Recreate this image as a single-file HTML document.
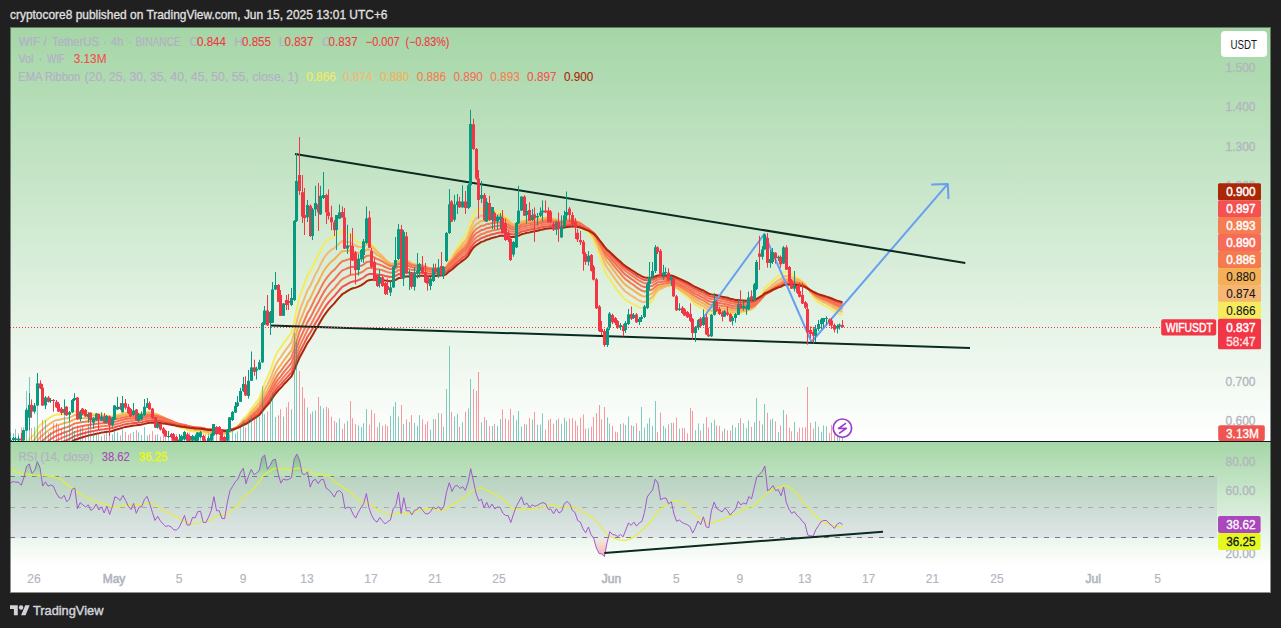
<!DOCTYPE html>
<html><head><meta charset="utf-8"><title>WIFUSDT chart</title>
<style>
*{margin:0;padding:0}
html,body{width:1281px;height:628px;overflow:hidden;background:#202020}
svg{position:absolute;left:0;top:0;display:block}
text{font-family:"Liberation Sans",sans-serif}
</style></head>
<body>
<svg width="1281" height="628" viewBox="0 0 1281 628" font-family="Liberation Sans, sans-serif" shape-rendering="auto">
<defs>
<linearGradient id="g1" x1="0" y1="0" x2="0" y2="1"><stop offset="0" stop-color="#a5d6a7"/><stop offset="1" stop-color="#ffffff"/></linearGradient>
<linearGradient id="g2" x1="0" y1="0" x2="0" y2="1"><stop offset="0" stop-color="#a5d6a7"/><stop offset="1" stop-color="#ffffff"/></linearGradient>
<linearGradient id="gos" gradientUnits="userSpaceOnUse" x1="0" y1="538" x2="0" y2="556"><stop offset="0" stop-color="rgba(255,70,70,0.05)"/><stop offset="1" stop-color="rgba(255,70,70,0.4)"/></linearGradient><linearGradient id="gob" gradientUnits="userSpaceOnUse" x1="0" y1="456" x2="0" y2="476"><stop offset="0" stop-color="rgba(0,150,40,0.3)"/><stop offset="1" stop-color="rgba(0,150,40,0.05)"/></linearGradient><clipPath id="cm"><rect x="10" y="27" width="1207" height="414"/></clipPath>
<clipPath id="cr"><rect x="10" y="442" width="1207" height="123"/></clipPath>
</defs><rect x="10" y="27" width="1261" height="566" fill="#ffffff"/><rect x="10" y="27" width="1261" height="414" fill="url(#g1)"/><rect x="10" y="442" width="1261" height="123" fill="url(#g2)"/><rect x="10" y="441" width="1261" height="1" fill="#131722"/><g clip-path="url(#cm)"><polyline points="10.6,452.9 13.2,451.5 15.9,450.2 18.6,449.1 21.3,448.3 24.0,446.6 26.6,443.1 29.3,439.4 32.0,436.8 34.7,433.8 37.3,429.0 40.0,425.1 42.7,423.2 45.4,420.8 48.0,419.0 50.7,417.2 53.4,415.6 56.1,414.8 58.7,414.5 61.4,414.4 64.1,413.9 66.8,414.0 69.4,413.8 72.1,412.5 74.8,411.1 77.5,411.9 80.1,411.9 82.8,412.1 85.5,412.5 88.2,412.6 90.8,413.3 93.5,413.8 96.2,413.8 98.9,414.3 101.5,414.5 104.2,415.3 106.9,415.4 109.6,416.3 112.2,416.4 114.9,415.4 117.6,414.6 120.2,414.0 122.9,413.0 125.6,412.5 128.3,412.6 131.0,412.9 133.6,412.7 136.3,413.4 139.0,413.5 141.7,413.6 144.3,412.9 147.0,412.0 149.7,411.8 152.4,412.4 155.0,413.8 157.7,414.8 160.4,416.2 163.1,417.8 165.7,419.6 168.4,421.2 171.1,422.7 173.8,424.4 176.4,426.0 179.1,427.3 181.8,428.1 184.5,428.5 187.1,429.7 189.8,430.7 192.5,431.2 195.2,431.7 197.8,431.8 200.5,431.8 203.2,432.7 205.9,433.4 208.5,433.9 211.2,433.9 213.9,432.9 216.6,433.1 219.2,433.2 221.9,433.9 224.6,434.6 227.2,434.1 229.9,432.5 232.6,430.5 235.3,428.2 238.0,425.7 240.6,422.4 243.3,418.8 246.0,416.6 248.7,413.1 251.3,408.8 254.0,405.3 256.7,401.8 259.4,398.0 262.0,390.9 264.7,383.2 267.4,377.7 270.1,371.5 272.7,363.7 275.4,356.2 278.1,351.0 280.8,347.6 283.4,343.4 286.1,339.8 288.8,336.3 291.5,332.6 294.1,322.0 296.8,308.6 299.5,297.4 302.2,289.7 304.8,282.8 307.5,275.4 310.2,271.7 312.9,265.7 315.5,259.8 318.2,255.3 320.9,249.6 323.6,244.4 326.2,241.3 328.9,238.9 331.6,237.3 334.3,236.7 336.9,234.6 339.6,232.5 342.3,231.0 345.0,232.7 347.6,233.9 350.3,235.1 353.0,237.5 355.7,240.6 358.3,242.4 361.0,243.1 363.7,242.9 366.4,240.6 369.0,241.3 371.7,243.7 374.4,247.2 377.1,250.9 379.7,253.4 382.4,256.5 385.1,260.1 387.8,262.9 390.4,265.3 393.1,265.4 395.8,264.9 398.5,261.5 401.1,263.1 403.8,260.2 406.5,261.4 409.2,262.4 411.8,264.7 414.5,265.6 417.2,266.1 419.9,265.9 422.5,266.6 425.2,268.1 427.9,269.6 430.6,270.4 433.2,270.2 435.9,270.4 438.6,270.1 441.2,270.6 443.9,270.3 446.6,266.7 449.3,260.8 452.0,257.0 454.6,252.0 457.3,247.2 460.0,243.4 462.7,239.4 465.3,236.4 468.0,231.6 470.7,221.3 473.4,214.4 476.0,211.0 478.7,210.0 481.4,208.5 484.1,209.6 486.7,208.9 489.4,210.0 492.1,209.7 494.8,210.8 497.4,211.4 500.1,211.9 502.8,213.9 505.5,216.4 508.1,218.6 510.8,222.6 513.5,224.4 516.2,224.3 518.8,223.0 521.5,220.5 524.2,220.0 526.9,219.1 529.5,219.3 532.2,218.9 534.9,218.8 537.5,218.6 540.2,218.0 542.9,217.3 545.6,216.8 548.2,217.3 550.9,217.8 553.6,218.9 556.3,219.2 559.0,220.1 561.6,220.8 564.3,220.3 567.0,219.5 569.7,219.0 572.3,219.5 575.0,220.3 577.7,222.1 580.4,224.0 583.0,226.9 585.7,230.2 588.4,232.6 591.0,236.3 593.7,240.4 596.4,246.9 599.1,254.9 601.8,262.2 604.4,270.1 607.1,275.7 609.8,279.3 612.5,283.4 615.1,287.1 617.8,291.0 620.5,294.2 623.1,297.7 625.8,300.1 628.5,301.5 631.2,303.1 633.9,304.3 636.5,306.0 639.2,307.2 641.9,308.1 644.5,308.0 647.2,305.7 649.9,303.0 652.6,299.9 655.2,294.9 657.9,290.8 660.6,289.3 663.3,287.7 666.0,286.2 668.6,285.7 671.3,284.9 674.0,286.0 676.6,288.3 679.3,290.2 682.0,292.4 684.7,294.6 687.4,296.7 690.0,299.0 692.7,302.3 695.4,304.7 698.0,306.1 700.7,308.0 703.4,308.9 706.1,311.3 708.8,313.7 711.4,313.8 714.1,312.6 716.8,312.5 719.5,312.6 722.1,313.0 724.8,312.8 727.5,313.0 730.1,313.8 732.8,314.2 735.5,314.2 738.2,313.2 740.9,312.7 743.5,312.1 746.2,311.6 748.9,310.3 751.5,309.3 754.2,306.9 756.9,302.6 759.6,298.3 762.2,293.6 764.9,288.0 767.6,285.6 770.3,283.1 773.0,280.1 775.6,278.0 778.3,276.0 781.0,274.9 783.6,272.3 786.3,272.0 789.0,272.9 791.7,274.4 794.4,275.5 797.0,277.1 799.7,279.0 802.4,281.3 805.0,283.8 807.7,288.5 810.4,292.8 813.1,296.9 815.8,299.9 818.4,302.2 821.1,303.8 823.8,305.2 826.5,306.4 829.1,307.9 831.8,309.6 834.5,311.5 837.1,312.8 839.8,314.0 842.5,315.2" fill="none" stroke="#f5eb5d" stroke-width="2" stroke-linejoin="round"/><polyline points="10.6,458.3 13.2,456.8 15.9,455.4 18.6,454.1 21.3,453.0 24.0,451.3 26.6,448.1 29.3,444.7 32.0,442.2 34.7,439.4 37.3,435.1 40.0,431.5 42.7,429.5 45.4,427.0 48.0,425.1 50.7,423.1 53.4,421.4 56.1,420.4 58.7,419.7 61.4,419.2 64.1,418.4 66.8,418.2 69.4,417.7 72.1,416.3 74.8,414.9 77.5,415.2 80.1,415.0 82.8,414.9 85.5,415.0 88.2,414.9 90.8,415.3 93.5,415.5 96.2,415.4 98.9,415.7 101.5,415.8 104.2,416.3 106.9,416.3 109.6,416.9 112.2,417.0 114.9,416.1 117.6,415.4 120.2,414.9 122.9,414.0 125.6,413.5 128.3,413.5 131.0,413.7 133.6,413.5 136.3,414.0 139.0,414.1 141.7,414.0 144.3,413.5 147.0,412.7 149.7,412.5 152.4,412.9 155.0,414.0 157.7,414.8 160.4,415.9 163.1,417.3 165.7,418.8 168.4,420.1 171.1,421.4 173.8,422.9 176.4,424.3 179.1,425.5 181.8,426.3 184.5,426.7 187.1,427.8 189.8,428.8 192.5,429.3 195.2,429.9 197.8,430.1 200.5,430.2 203.2,431.0 205.9,431.8 208.5,432.3 211.2,432.4 213.9,431.8 216.6,431.9 219.2,432.1 221.9,432.8 224.6,433.4 227.2,433.1 229.9,431.9 232.6,430.4 235.3,428.5 238.0,426.5 240.6,423.8 243.3,420.7 246.0,418.8 248.7,415.8 251.3,412.1 254.0,409.0 256.7,405.9 259.4,402.6 262.0,396.4 264.7,389.8 267.4,384.9 270.1,379.3 272.7,372.4 275.4,365.6 278.1,360.7 280.8,357.3 283.4,353.1 286.1,349.4 288.8,345.9 291.5,342.2 294.1,332.9 296.8,321.2 299.5,311.2 302.2,303.9 304.8,297.3 307.5,290.2 310.2,286.0 312.9,280.1 315.5,274.2 318.2,269.4 320.9,263.8 323.6,258.5 326.2,254.9 328.9,251.9 331.6,249.6 334.3,248.1 336.9,245.6 339.6,243.0 342.3,241.1 345.0,241.7 347.6,241.9 350.3,242.3 353.0,243.7 355.7,245.7 358.3,246.7 361.0,247.0 363.7,246.6 366.4,244.4 369.0,244.6 371.7,246.4 374.4,249.0 377.1,251.8 379.7,253.8 382.4,256.2 385.1,259.2 387.8,261.5 390.4,263.5 393.1,263.8 395.8,263.5 398.5,260.9 401.1,262.2 403.8,259.9 406.5,260.9 409.2,261.8 411.8,263.7 414.5,264.4 417.2,265.0 419.9,264.9 422.5,265.5 425.2,266.8 427.9,268.1 430.6,268.9 433.2,268.9 435.9,269.1 438.6,269.0 441.2,269.5 443.9,269.3 446.6,266.5 449.3,261.7 452.0,258.6 454.6,254.4 457.3,250.4 460.0,247.1 462.7,243.6 465.3,240.8 468.0,236.6 470.7,227.9 473.4,221.8 476.0,218.5 478.7,217.1 481.4,215.4 484.1,215.7 486.7,214.7 489.4,215.1 492.1,214.5 494.8,215.0 497.4,215.1 500.1,215.2 502.8,216.6 505.5,218.4 508.1,220.1 510.8,223.1 513.5,224.6 516.2,224.5 518.8,223.4 521.5,221.3 524.2,220.9 526.9,220.1 529.5,220.2 532.2,219.8 534.9,219.7 537.5,219.4 540.2,218.9 542.9,218.2 545.6,217.8 548.2,218.1 550.9,218.4 553.6,219.3 556.3,219.5 559.0,220.2 561.6,220.7 564.3,220.3 567.0,219.7 569.7,219.3 572.3,219.7 575.0,220.3 577.7,221.7 580.4,223.3 583.0,225.7 585.7,228.5 588.4,230.6 591.0,233.6 593.7,237.2 596.4,242.7 599.1,249.5 601.8,255.8 604.4,262.7 607.1,267.7 609.8,271.3 612.5,275.2 615.1,278.9 617.8,282.6 620.5,285.9 623.1,289.3 625.8,291.9 628.5,293.7 631.2,295.6 633.9,297.1 636.5,299.0 639.2,300.5 641.9,301.8 644.5,302.2 647.2,300.8 649.9,298.9 652.6,296.8 655.2,293.0 657.9,289.8 660.6,288.7 663.3,287.5 666.0,286.3 668.6,285.8 671.3,285.2 674.0,286.0 676.6,287.9 679.3,289.5 682.0,291.3 684.7,293.1 687.4,295.0 690.0,297.0 692.7,299.8 695.4,301.9 698.0,303.3 700.7,305.0 703.4,306.0 706.1,308.2 708.8,310.3 711.4,310.7 714.1,309.9 716.8,310.0 719.5,310.3 722.1,310.8 724.8,310.8 727.5,311.1 730.1,311.9 732.8,312.4 735.5,312.5 738.2,311.9 740.9,311.6 743.5,311.1 746.2,310.8 748.9,309.8 751.5,309.0 754.2,307.1 756.9,303.7 759.6,300.1 762.2,296.2 764.9,291.4 767.6,289.2 770.3,286.9 773.0,284.2 775.6,282.2 778.3,280.3 781.0,279.0 783.6,276.6 786.3,276.1 789.0,276.5 791.7,277.4 794.4,278.1 797.0,279.2 799.7,280.5 802.4,282.3 805.0,284.3 807.7,288.0 810.4,291.5 813.1,294.9 815.8,297.5 818.4,299.5 821.1,301.0 823.8,302.3 826.5,303.5 829.1,305.0 831.8,306.5 834.5,308.3 837.1,309.7 839.8,310.8 842.5,312.1" fill="none" stroke="#f5b771" stroke-width="2" stroke-linejoin="round"/><polyline points="10.6,463.4 13.2,461.8 15.9,460.3 18.6,458.9 21.3,457.7 24.0,455.9 26.6,452.9 29.3,449.8 32.0,447.4 34.7,444.7 37.3,440.7 40.0,437.3 42.7,435.3 45.4,432.8 48.0,430.8 50.7,428.8 53.4,427.0 56.1,425.8 58.7,424.9 61.4,424.1 64.1,423.1 66.8,422.6 69.4,421.9 72.1,420.5 74.8,419.1 77.5,419.1 80.1,418.6 82.8,418.3 85.5,418.2 88.2,417.9 90.8,418.0 93.5,418.1 96.2,417.8 98.9,417.9 101.5,417.8 104.2,418.1 106.9,418.0 109.6,418.4 112.2,418.4 114.9,417.5 117.6,416.8 120.2,416.3 122.9,415.5 125.6,415.0 128.3,414.9 131.0,415.0 133.6,414.7 136.3,415.1 139.0,415.0 141.7,415.0 144.3,414.4 147.0,413.7 149.7,413.4 152.4,413.7 155.0,414.6 157.7,415.2 160.4,416.2 163.1,417.3 165.7,418.5 168.4,419.7 171.1,420.8 173.8,422.1 176.4,423.3 179.1,424.3 181.8,425.1 184.5,425.5 187.1,426.5 189.8,427.4 192.5,428.0 195.2,428.5 197.8,428.8 200.5,429.0 203.2,429.8 205.9,430.5 208.5,431.0 211.2,431.2 213.9,430.7 216.6,430.9 219.2,431.1 221.9,431.7 224.6,432.3 227.2,432.2 229.9,431.2 232.6,430.0 235.3,428.4 238.0,426.7 240.6,424.4 243.3,421.8 246.0,420.1 248.7,417.6 251.3,414.3 254.0,411.6 256.7,408.8 259.4,405.8 262.0,400.5 264.7,394.7 267.4,390.2 270.1,385.2 272.7,379.0 275.4,372.9 278.1,368.3 280.8,365.0 283.4,361.0 286.1,357.4 288.8,353.9 291.5,350.3 294.1,341.9 296.8,331.5 299.5,322.5 302.2,315.6 304.8,309.3 307.5,302.6 310.2,298.3 312.9,292.6 315.5,286.8 318.2,282.0 320.9,276.4 323.6,271.2 326.2,267.4 328.9,264.1 331.6,261.4 334.3,259.4 336.9,256.5 339.6,253.6 342.3,251.3 345.0,251.1 347.6,250.8 350.3,250.5 353.0,251.1 355.7,252.4 358.3,252.8 361.0,252.6 363.7,251.9 366.4,249.7 369.0,249.6 371.7,250.7 374.4,252.6 377.1,254.8 379.7,256.2 382.4,258.1 385.1,260.4 387.8,262.4 390.4,264.0 393.1,264.2 395.8,263.9 398.5,261.7 401.1,262.7 403.8,260.8 406.5,261.6 409.2,262.3 411.8,263.8 414.5,264.5 417.2,264.9 419.9,264.8 422.5,265.4 425.2,266.5 427.9,267.6 430.6,268.3 433.2,268.3 435.9,268.5 438.6,268.5 441.2,268.9 443.9,268.8 446.6,266.5 449.3,262.5 452.0,259.8 454.6,256.2 457.3,252.7 460.0,249.8 462.7,246.7 465.3,244.2 468.0,240.4 470.7,232.9 473.4,227.5 476.0,224.3 478.7,222.7 481.4,220.9 484.1,220.9 486.7,219.7 489.4,219.7 492.1,218.9 494.8,219.0 497.4,218.9 500.1,218.7 502.8,219.7 505.5,221.0 508.1,222.2 510.8,224.6 513.5,225.8 516.2,225.6 518.8,224.6 521.5,222.8 524.2,222.3 526.9,221.6 529.5,221.6 532.2,221.1 534.9,221.0 537.5,220.6 540.2,220.1 542.9,219.5 545.6,219.0 548.2,219.2 550.9,219.4 553.6,220.1 556.3,220.2 559.0,220.8 561.6,221.2 564.3,220.8 567.0,220.2 569.7,219.9 572.3,220.1 575.0,220.6 577.7,221.8 580.4,223.1 583.0,225.1 585.7,227.5 588.4,229.3 591.0,232.0 593.7,235.1 596.4,239.8 599.1,245.7 601.8,251.2 604.4,257.3 607.1,261.9 609.8,265.2 612.5,268.9 615.1,272.4 617.8,276.0 620.5,279.1 623.1,282.5 625.8,285.1 628.5,287.0 631.2,289.0 633.9,290.7 636.5,292.7 639.2,294.4 641.9,295.9 644.5,296.6 647.2,295.7 649.9,294.5 652.6,293.0 655.2,290.1 657.9,287.6 660.6,286.8 663.3,285.9 666.0,285.0 668.6,284.7 671.3,284.2 674.0,285.0 676.6,286.6 679.3,288.0 682.0,289.6 684.7,291.3 687.4,293.0 690.0,294.8 692.7,297.3 695.4,299.2 698.0,300.5 700.7,302.2 703.4,303.2 706.1,305.2 708.8,307.2 711.4,307.7 714.1,307.2 716.8,307.5 719.5,307.9 722.1,308.5 724.8,308.7 727.5,309.1 730.1,309.8 732.8,310.4 735.5,310.6 738.2,310.2 740.9,310.1 743.5,309.8 746.2,309.6 748.9,308.8 751.5,308.2 754.2,306.7 756.9,303.8 759.6,300.8 762.2,297.5 764.9,293.4 767.6,291.4 770.3,289.4 773.0,286.9 775.6,285.1 778.3,283.3 781.0,282.0 783.6,279.8 786.3,279.2 789.0,279.3 791.7,279.9 794.4,280.3 797.0,281.1 799.7,282.1 802.4,283.5 805.0,285.0 807.7,288.1 810.4,291.1 813.1,293.9 815.8,296.2 818.4,298.0 821.1,299.3 823.8,300.5 826.5,301.7 829.1,303.0 831.8,304.4 834.5,306.1 837.1,307.3 839.8,308.5 842.5,309.6" fill="none" stroke="#f5b056" stroke-width="2" stroke-linejoin="round"/><polyline points="10.6,468.0 13.2,466.4 15.9,464.8 18.6,463.4 21.3,462.1 24.0,460.3 26.6,457.5 29.3,454.6 32.0,452.2 34.7,449.6 37.3,445.9 40.0,442.7 42.7,440.7 45.4,438.3 48.0,436.2 50.7,434.2 53.4,432.4 56.1,431.0 58.7,429.9 61.4,429.0 64.1,427.9 66.8,427.2 69.4,426.3 72.1,424.9 74.8,423.4 77.5,423.1 80.1,422.5 82.8,422.0 85.5,421.7 88.2,421.3 90.8,421.2 93.5,421.0 96.2,420.6 98.9,420.6 101.5,420.3 104.2,420.5 106.9,420.2 109.6,420.5 112.2,420.3 114.9,419.5 117.6,418.8 120.2,418.3 122.9,417.4 125.6,416.9 128.3,416.7 131.0,416.7 133.6,416.3 136.3,416.6 139.0,416.4 141.7,416.3 144.3,415.8 147.0,415.1 149.7,414.8 152.4,415.0 155.0,415.7 157.7,416.1 160.4,416.9 163.1,417.8 165.7,418.8 168.4,419.8 171.1,420.8 173.8,421.9 176.4,422.9 179.1,423.8 181.8,424.5 184.5,424.9 187.1,425.8 189.8,426.6 192.5,427.2 195.2,427.7 197.8,427.9 200.5,428.2 203.2,428.9 205.9,429.5 208.5,430.0 211.2,430.2 213.9,429.9 216.6,430.1 219.2,430.4 221.9,430.9 224.6,431.5 227.2,431.4 229.9,430.6 232.6,429.6 235.3,428.3 238.0,426.8 240.6,424.8 243.3,422.6 246.0,421.1 248.7,418.8 251.3,416.0 254.0,413.5 256.7,411.0 259.4,408.3 262.0,403.6 264.7,398.4 267.4,394.3 270.1,389.8 272.7,384.2 275.4,378.7 278.1,374.4 280.8,371.2 283.4,367.4 286.1,363.9 288.8,360.5 291.5,357.1 294.1,349.5 296.8,340.2 299.5,331.9 302.2,325.5 304.8,319.5 307.5,313.1 310.2,308.8 312.9,303.3 315.5,297.7 318.2,293.0 320.9,287.6 323.6,282.5 326.2,278.6 328.9,275.1 331.6,272.1 334.3,269.8 336.9,266.8 339.6,263.7 342.3,261.2 345.0,260.5 347.6,259.6 350.3,258.9 353.0,259.0 355.7,259.6 358.3,259.6 361.0,259.0 363.7,258.1 366.4,255.9 369.0,255.4 371.7,256.1 374.4,257.4 377.1,259.0 379.7,260.0 382.4,261.4 385.1,263.2 387.8,264.7 390.4,266.0 393.1,266.0 395.8,265.7 398.5,263.7 401.1,264.5 403.8,262.7 406.5,263.3 409.2,263.8 411.8,265.1 414.5,265.5 417.2,265.8 419.9,265.7 422.5,266.2 425.2,267.0 427.9,268.0 430.6,268.6 433.2,268.5 435.9,268.7 438.6,268.7 441.2,269.0 443.9,268.9 446.6,266.9 449.3,263.4 452.0,261.1 454.6,258.0 457.3,254.8 460.0,252.2 462.7,249.4 465.3,247.1 468.0,243.6 470.7,237.0 473.4,232.1 476.0,229.1 478.7,227.5 481.4,225.7 484.1,225.4 486.7,224.1 489.4,223.9 492.1,222.9 494.8,222.9 497.4,222.5 500.1,222.2 502.8,222.8 505.5,223.7 508.1,224.6 510.8,226.6 513.5,227.5 516.2,227.2 518.8,226.3 521.5,224.6 524.2,224.1 526.9,223.4 529.5,223.3 532.2,222.8 534.9,222.6 537.5,222.2 540.2,221.7 542.9,221.0 545.6,220.6 548.2,220.6 550.9,220.7 553.6,221.2 556.3,221.3 559.0,221.7 561.6,222.0 564.3,221.6 567.0,221.1 569.7,220.7 572.3,220.9 575.0,221.3 577.7,222.3 580.4,223.4 583.0,225.1 585.7,227.1 588.4,228.7 591.0,231.1 593.7,233.8 596.4,237.9 599.1,243.1 601.8,248.0 604.4,253.4 607.1,257.6 609.8,260.7 612.5,264.1 615.1,267.4 617.8,270.7 620.5,273.7 623.1,276.9 625.8,279.5 628.5,281.4 631.2,283.5 633.9,285.2 636.5,287.3 639.2,289.1 641.9,290.6 644.5,291.5 647.2,291.1 649.9,290.3 652.6,289.2 655.2,286.9 657.9,284.9 660.6,284.4 663.3,283.8 666.0,283.1 668.6,283.0 671.3,282.6 674.0,283.4 676.6,284.9 679.3,286.2 682.0,287.7 684.7,289.2 687.4,290.8 690.0,292.5 692.7,294.7 695.4,296.5 698.0,297.8 700.7,299.4 703.4,300.4 706.1,302.3 708.8,304.2 711.4,304.8 714.1,304.6 716.8,304.9 719.5,305.4 722.1,306.0 724.8,306.3 727.5,306.8 730.1,307.6 732.8,308.2 735.5,308.5 738.2,308.3 740.9,308.3 743.5,308.1 746.2,308.1 748.9,307.5 751.5,307.1 754.2,305.8 756.9,303.4 759.6,300.8 762.2,297.9 764.9,294.4 767.6,292.6 770.3,290.8 773.0,288.6 775.6,286.9 778.3,285.3 781.0,284.1 783.6,282.1 786.3,281.4 789.0,281.4 791.7,281.8 794.4,282.0 797.0,282.6 799.7,283.4 802.4,284.5 805.0,285.8 807.7,288.4 810.4,290.9 813.1,293.4 815.8,295.3 818.4,296.9 821.1,298.2 823.8,299.3 826.5,300.3 829.1,301.5 831.8,302.9 834.5,304.3 837.1,305.5 839.8,306.6 842.5,307.7" fill="none" stroke="#f57b4e" stroke-width="2" stroke-linejoin="round"/><polyline points="10.6,472.2 13.2,470.6 15.9,469.0 18.6,467.5 21.3,466.2 24.0,464.4 26.6,461.8 29.3,459.0 32.0,456.7 34.7,454.2 37.3,450.7 40.0,447.7 42.7,445.6 45.4,443.3 48.0,441.3 50.7,439.2 53.4,437.4 56.1,435.9 58.7,434.7 61.4,433.7 64.1,432.5 66.8,431.6 69.4,430.7 72.1,429.2 74.8,427.7 77.5,427.2 80.1,426.5 82.8,425.9 85.5,425.4 88.2,424.9 90.8,424.6 93.5,424.3 96.2,423.8 98.9,423.6 101.5,423.2 104.2,423.2 106.9,422.8 109.6,423.0 112.2,422.7 114.9,421.9 117.6,421.1 120.2,420.5 122.9,419.7 125.6,419.1 128.3,418.8 131.0,418.7 133.6,418.3 136.3,418.4 139.0,418.2 141.7,418.0 144.3,417.5 147.0,416.8 149.7,416.4 152.4,416.5 155.0,417.0 157.7,417.4 160.4,418.0 163.1,418.7 165.7,419.6 168.4,420.4 171.1,421.2 173.8,422.2 176.4,423.1 179.1,423.9 181.8,424.5 184.5,424.8 187.1,425.6 189.8,426.4 192.5,426.8 195.2,427.3 197.8,427.5 200.5,427.8 203.2,428.4 205.9,429.0 208.5,429.4 211.2,429.7 213.9,429.4 216.6,429.6 219.2,429.9 221.9,430.4 224.6,430.9 227.2,430.8 229.9,430.2 232.6,429.3 235.3,428.2 238.0,426.9 240.6,425.1 243.3,423.1 246.0,421.8 248.7,419.8 251.3,417.2 254.0,415.0 256.7,412.8 259.4,410.3 262.0,406.0 264.7,401.4 267.4,397.7 270.1,393.5 272.7,388.4 275.4,383.4 278.1,379.4 280.8,376.3 283.4,372.7 286.1,369.4 288.8,366.2 291.5,362.9 294.1,355.9 296.8,347.4 299.5,339.8 302.2,333.8 304.8,328.1 307.5,322.1 310.2,317.9 312.9,312.6 315.5,307.3 318.2,302.6 320.9,297.4 323.6,292.4 326.2,288.5 328.9,285.0 331.6,281.9 334.3,279.4 336.9,276.3 339.6,273.1 342.3,270.4 345.0,269.4 347.6,268.2 350.3,267.1 353.0,266.8 355.7,267.0 358.3,266.6 361.0,265.8 363.7,264.6 366.4,262.3 369.0,261.6 371.7,261.9 374.4,262.8 377.1,263.9 379.7,264.6 382.4,265.6 385.1,267.0 387.8,268.1 390.4,269.0 393.1,268.9 395.8,268.5 398.5,266.6 401.1,267.2 403.8,265.5 406.5,265.8 409.2,266.1 411.8,267.2 414.5,267.5 417.2,267.6 419.9,267.5 422.5,267.7 425.2,268.5 427.9,269.2 430.6,269.6 433.2,269.6 435.9,269.7 438.6,269.6 441.2,269.9 443.9,269.7 446.6,267.9 449.3,264.8 452.0,262.7 454.6,259.9 457.3,257.0 460.0,254.6 462.7,252.0 465.3,249.9 468.0,246.7 470.7,240.7 473.4,236.3 476.0,233.4 478.7,231.8 481.4,230.0 484.1,229.5 486.7,228.2 489.4,227.8 492.1,226.8 494.8,226.5 497.4,226.0 500.1,225.6 502.8,225.9 505.5,226.6 508.1,227.3 510.8,228.9 513.5,229.5 516.2,229.2 518.8,228.3 521.5,226.7 524.2,226.2 526.9,225.5 529.5,225.2 532.2,224.7 534.9,224.4 537.5,224.0 540.2,223.4 542.9,222.8 545.6,222.3 548.2,222.3 550.9,222.3 553.6,222.6 556.3,222.6 559.0,222.9 561.6,223.1 564.3,222.7 567.0,222.2 569.7,221.9 572.3,222.0 575.0,222.2 577.7,223.1 580.4,224.0 583.0,225.5 585.7,227.2 588.4,228.6 591.0,230.7 593.7,233.1 596.4,236.7 599.1,241.3 601.8,245.8 604.4,250.6 607.1,254.4 609.8,257.3 612.5,260.5 615.1,263.5 617.8,266.6 620.5,269.5 623.1,272.5 625.8,274.9 628.5,276.9 631.2,278.9 633.9,280.7 636.5,282.7 639.2,284.5 641.9,286.1 644.5,287.1 647.2,286.9 649.9,286.4 652.6,285.7 655.2,283.8 657.9,282.2 660.6,281.9 663.3,281.4 666.0,281.0 668.6,281.0 671.3,280.8 674.0,281.5 676.6,282.9 679.3,284.2 682.0,285.6 684.7,287.0 687.4,288.5 690.0,290.1 692.7,292.2 695.4,293.9 698.0,295.2 700.7,296.7 703.4,297.7 706.1,299.5 708.8,301.3 711.4,301.9 714.1,301.9 716.8,302.3 719.5,302.9 722.1,303.6 724.8,304.0 727.5,304.5 730.1,305.3 732.8,305.9 735.5,306.3 738.2,306.2 740.9,306.3 743.5,306.3 746.2,306.3 748.9,305.9 751.5,305.6 754.2,304.6 756.9,302.5 759.6,300.3 762.2,297.8 764.9,294.7 767.6,293.1 770.3,291.5 773.0,289.5 775.6,288.0 778.3,286.5 781.0,285.4 783.6,283.6 786.3,282.9 789.0,282.8 791.7,283.1 794.4,283.2 797.0,283.7 799.7,284.3 802.4,285.3 805.0,286.4 807.7,288.6 810.4,290.8 813.1,293.0 815.8,294.7 818.4,296.2 821.1,297.3 823.8,298.3 826.5,299.3 829.1,300.4 831.8,301.6 834.5,303.0 837.1,304.1 839.8,305.1 842.5,306.2" fill="none" stroke="#f56d58" stroke-width="2" stroke-linejoin="round"/><polyline points="10.6,476.0 13.2,474.4 15.9,472.8 18.6,471.3 21.3,470.0 24.0,468.3 26.6,465.7 29.3,463.1 32.0,460.8 34.7,458.4 37.3,455.2 40.0,452.3 42.7,450.2 45.4,447.9 48.0,445.9 50.7,443.9 53.4,442.1 56.1,440.6 58.7,439.3 61.4,438.1 64.1,436.9 66.8,435.9 69.4,434.9 72.1,433.4 74.8,431.9 77.5,431.3 80.1,430.4 82.8,429.7 85.5,429.2 88.2,428.5 90.8,428.1 93.5,427.7 96.2,427.1 98.9,426.8 101.5,426.3 104.2,426.1 106.9,425.7 109.6,425.7 112.2,425.3 114.9,424.5 117.6,423.7 120.2,423.1 122.9,422.2 125.6,421.6 128.3,421.2 131.0,421.0 133.6,420.5 136.3,420.5 139.0,420.3 141.7,420.0 144.3,419.4 147.0,418.7 149.7,418.3 152.4,418.3 155.0,418.7 157.7,419.0 160.4,419.4 163.1,420.0 165.7,420.7 168.4,421.4 171.1,422.1 173.8,422.9 176.4,423.7 179.1,424.4 181.8,424.9 184.5,425.2 187.1,425.9 189.8,426.5 192.5,426.9 195.2,427.3 197.8,427.6 200.5,427.8 203.2,428.3 205.9,428.9 208.5,429.3 211.2,429.5 213.9,429.2 216.6,429.4 219.2,429.7 221.9,430.1 224.6,430.6 227.2,430.6 229.9,430.0 232.6,429.2 235.3,428.2 238.0,427.1 240.6,425.5 243.3,423.7 246.0,422.5 248.7,420.7 251.3,418.3 254.0,416.3 256.7,414.2 259.4,412.0 262.0,408.1 264.7,403.9 267.4,400.5 270.1,396.6 272.7,392.0 275.4,387.3 278.1,383.6 280.8,380.6 283.4,377.3 286.1,374.1 288.8,371.1 291.5,367.9 294.1,361.5 296.8,353.6 299.5,346.6 302.2,340.9 304.8,335.6 307.5,329.9 310.2,325.8 312.9,320.8 315.5,315.6 318.2,311.1 320.9,306.1 323.6,301.3 326.2,297.4 328.9,293.9 331.6,290.8 334.3,288.1 336.9,285.0 339.6,281.8 342.3,279.0 345.0,277.7 347.6,276.3 350.3,275.0 353.0,274.4 355.7,274.2 358.3,273.5 361.0,272.5 363.7,271.1 366.4,268.8 369.0,267.9 371.7,267.9 374.4,268.4 377.1,269.2 379.7,269.5 382.4,270.2 385.1,271.3 387.8,272.1 390.4,272.8 393.1,272.5 395.8,272.0 398.5,270.1 401.1,270.5 403.8,268.8 406.5,269.0 409.2,269.1 411.8,269.9 414.5,270.0 417.2,270.1 419.9,269.8 422.5,270.0 425.2,270.5 427.9,271.1 430.6,271.4 433.2,271.3 435.9,271.3 438.6,271.1 441.2,271.3 443.9,271.1 446.6,269.5 449.3,266.6 452.0,264.7 454.6,262.1 457.3,259.4 460.0,257.2 462.7,254.7 465.3,252.7 468.0,249.8 470.7,244.3 473.4,240.2 476.0,237.5 478.7,235.9 481.4,234.1 484.1,233.5 486.7,232.1 489.4,231.6 492.1,230.5 494.8,230.1 497.4,229.5 500.1,229.0 502.8,229.1 505.5,229.6 508.1,230.1 510.8,231.4 513.5,231.8 516.2,231.4 518.8,230.5 521.5,229.1 524.2,228.5 526.9,227.7 529.5,227.4 532.2,226.9 534.9,226.5 537.5,226.1 540.2,225.5 542.9,224.8 545.6,224.3 548.2,224.2 550.9,224.1 553.6,224.3 556.3,224.2 559.0,224.4 561.6,224.5 564.3,224.1 567.0,223.6 569.7,223.2 572.3,223.3 575.0,223.4 577.7,224.1 580.4,224.9 583.0,226.2 585.7,227.7 588.4,229.0 591.0,230.8 593.7,232.9 596.4,236.2 599.1,240.3 601.8,244.3 604.4,248.7 607.1,252.1 609.8,254.8 612.5,257.7 615.1,260.6 617.8,263.5 620.5,266.2 623.1,269.0 625.8,271.3 628.5,273.2 631.2,275.2 633.9,276.9 636.5,278.9 639.2,280.6 641.9,282.2 644.5,283.3 647.2,283.3 649.9,283.0 652.6,282.5 655.2,281.0 657.9,279.7 660.6,279.5 663.3,279.2 666.0,278.9 668.6,279.0 671.3,278.9 674.0,279.6 676.6,281.0 679.3,282.2 682.0,283.5 684.7,284.9 687.4,286.3 690.0,287.8 692.7,289.8 695.4,291.4 698.0,292.7 700.7,294.1 703.4,295.1 706.1,296.8 708.8,298.5 711.4,299.2 714.1,299.3 716.8,299.8 719.5,300.5 722.1,301.2 724.8,301.6 727.5,302.2 730.1,303.0 732.8,303.6 735.5,304.1 738.2,304.1 740.9,304.3 743.5,304.3 746.2,304.5 748.9,304.2 751.5,304.0 754.2,303.1 756.9,301.3 759.6,299.4 762.2,297.2 764.9,294.5 767.6,293.1 770.3,291.6 773.0,289.9 775.6,288.5 778.3,287.2 781.0,286.2 783.6,284.5 786.3,283.8 789.0,283.7 791.7,283.9 794.4,284.0 797.0,284.4 799.7,284.9 802.4,285.7 805.0,286.7 807.7,288.7 810.4,290.7 813.1,292.6 815.8,294.2 818.4,295.5 821.1,296.5 823.8,297.4 826.5,298.3 829.1,299.4 831.8,300.5 834.5,301.8 837.1,302.8 839.8,303.8 842.5,304.8" fill="none" stroke="#f57d51" stroke-width="2" stroke-linejoin="round"/><polyline points="10.6,479.5 13.2,477.9 15.9,476.3 18.6,474.8 21.3,473.5 24.0,471.8 26.6,469.3 29.3,466.8 32.0,464.7 34.7,462.3 37.3,459.2 40.0,456.5 42.7,454.5 45.4,452.2 48.0,450.2 50.7,448.3 53.4,446.4 56.1,444.9 58.7,443.6 61.4,442.4 64.1,441.1 66.8,440.1 69.4,439.0 72.1,437.4 74.8,435.9 77.5,435.2 80.1,434.3 82.8,433.5 85.5,432.8 88.2,432.1 90.8,431.6 93.5,431.1 96.2,430.4 98.9,430.0 101.5,429.5 104.2,429.2 106.9,428.7 109.6,428.5 112.2,428.1 114.9,427.2 117.6,426.4 120.2,425.7 122.9,424.9 125.6,424.2 128.3,423.7 131.0,423.5 133.6,423.0 136.3,422.9 139.0,422.5 141.7,422.2 144.3,421.6 147.0,420.9 149.7,420.4 152.4,420.3 155.0,420.6 157.7,420.8 160.4,421.1 163.1,421.6 165.7,422.2 168.4,422.7 171.1,423.3 173.8,424.0 176.4,424.6 179.1,425.2 181.8,425.6 184.5,425.9 187.1,426.5 189.8,427.0 192.5,427.4 195.2,427.7 197.8,427.9 200.5,428.1 203.2,428.6 205.9,429.1 208.5,429.4 211.2,429.6 213.9,429.4 216.6,429.6 219.2,429.7 221.9,430.2 224.6,430.6 227.2,430.6 229.9,430.0 232.6,429.3 235.3,428.4 238.0,427.4 240.6,426.0 243.3,424.3 246.0,423.2 248.7,421.5 251.3,419.4 254.0,417.5 256.7,415.6 259.4,413.5 262.0,410.0 264.7,406.1 267.4,402.9 270.1,399.4 272.7,395.0 275.4,390.7 278.1,387.2 280.8,384.4 283.4,381.3 286.1,378.3 288.8,375.3 291.5,372.3 294.1,366.4 296.8,359.1 299.5,352.5 302.2,347.2 304.8,342.1 307.5,336.7 310.2,332.8 312.9,327.9 315.5,323.0 318.2,318.7 320.9,313.9 323.6,309.2 326.2,305.4 328.9,301.9 331.6,298.8 334.3,296.1 336.9,292.9 339.6,289.8 342.3,286.9 345.0,285.4 347.6,283.8 350.3,282.4 353.0,281.5 355.7,281.1 358.3,280.2 361.0,279.0 363.7,277.5 366.4,275.2 369.0,274.1 371.7,273.9 374.4,274.1 377.1,274.6 379.7,274.7 382.4,275.1 385.1,275.9 387.8,276.4 390.4,276.9 393.1,276.5 395.8,275.8 398.5,274.0 401.1,274.2 403.8,272.5 406.5,272.5 409.2,272.5 411.8,273.1 414.5,273.1 417.2,273.0 419.9,272.7 422.5,272.7 425.2,273.1 427.9,273.5 430.6,273.7 433.2,273.5 435.9,273.4 438.6,273.2 441.2,273.3 443.9,273.0 446.6,271.4 449.3,268.8 452.0,267.0 454.6,264.5 457.3,262.0 460.0,259.9 462.7,257.6 465.3,255.7 468.0,252.9 470.7,247.8 473.4,244.0 476.0,241.4 478.7,239.8 481.4,238.0 484.1,237.3 486.7,235.9 489.4,235.3 492.1,234.2 494.8,233.7 497.4,233.0 500.1,232.4 502.8,232.4 505.5,232.7 508.1,233.0 510.8,234.1 513.5,234.4 516.2,233.9 518.8,233.0 521.5,231.6 524.2,231.0 526.9,230.2 529.5,229.8 532.2,229.2 534.9,228.8 537.5,228.3 540.2,227.7 542.9,227.0 545.6,226.4 548.2,226.3 550.9,226.1 553.6,226.2 556.3,226.1 559.0,226.2 561.6,226.2 564.3,225.8 567.0,225.2 569.7,224.8 572.3,224.8 575.0,224.9 577.7,225.5 580.4,226.1 583.0,227.2 585.7,228.6 588.4,229.6 591.0,231.3 593.7,233.2 596.4,236.1 599.1,239.8 601.8,243.4 604.4,247.4 607.1,250.6 609.8,253.1 612.5,255.8 615.1,258.4 617.8,261.1 620.5,263.6 623.1,266.3 625.8,268.5 628.5,270.3 631.2,272.2 633.9,273.9 636.5,275.8 639.2,277.5 641.9,279.0 644.5,280.1 647.2,280.2 649.9,280.1 652.6,279.8 655.2,278.5 657.9,277.4 660.6,277.4 663.3,277.2 666.0,277.0 668.6,277.1 671.3,277.1 674.0,277.9 676.6,279.1 679.3,280.3 682.0,281.6 684.7,282.9 687.4,284.3 690.0,285.7 692.7,287.5 695.4,289.1 698.0,290.3 700.7,291.7 703.4,292.7 706.1,294.4 708.8,296.0 711.4,296.7 714.1,296.9 716.8,297.5 719.5,298.1 722.1,298.8 724.8,299.3 727.5,299.9 730.1,300.8 732.8,301.4 735.5,301.9 738.2,302.0 740.9,302.3 743.5,302.4 746.2,302.6 748.9,302.4 751.5,302.3 754.2,301.6 756.9,300.0 759.6,298.3 762.2,296.4 764.9,294.0 767.6,292.8 770.3,291.4 773.0,289.9 775.6,288.7 778.3,287.4 781.0,286.5 783.6,285.0 786.3,284.4 789.0,284.2 791.7,284.4 794.4,284.5 797.0,284.8 799.7,285.3 802.4,286.0 805.0,286.8 807.7,288.6 810.4,290.4 813.1,292.2 815.8,293.6 818.4,294.8 821.1,295.7 823.8,296.6 826.5,297.5 829.1,298.4 831.8,299.5 834.5,300.7 837.1,301.7 839.8,302.6 842.5,303.5" fill="none" stroke="#f55151" stroke-width="2" stroke-linejoin="round"/><polyline points="10.6,482.6 13.2,481.0 15.9,479.5 18.6,478.0 21.3,476.7 24.0,475.0 26.6,472.7 29.3,470.3 32.0,468.2 34.7,465.9 37.3,463.0 40.0,460.3 42.7,458.4 45.4,456.2 48.0,454.2 50.7,452.3 53.4,450.5 56.1,448.9 58.7,447.6 61.4,446.4 64.1,445.0 66.8,444.0 69.4,442.8 72.1,441.3 74.8,439.8 77.5,439.0 80.1,438.0 82.8,437.2 85.5,436.4 88.2,435.6 90.8,435.1 93.5,434.5 96.2,433.7 98.9,433.2 101.5,432.6 104.2,432.3 106.9,431.7 109.6,431.4 112.2,431.0 114.9,430.0 117.6,429.2 120.2,428.5 122.9,427.6 125.6,426.9 128.3,426.4 131.0,426.0 133.6,425.5 136.3,425.3 139.0,424.9 141.7,424.5 144.3,423.9 147.0,423.2 149.7,422.7 152.4,422.5 155.0,422.7 157.7,422.7 160.4,423.0 163.1,423.4 165.7,423.8 168.4,424.3 171.1,424.7 173.8,425.3 176.4,425.9 179.1,426.3 181.8,426.7 184.5,426.9 187.1,427.4 189.8,427.8 192.5,428.1 195.2,428.4 197.8,428.6 200.5,428.7 203.2,429.1 205.9,429.6 208.5,429.9 211.2,430.0 213.9,429.8 216.6,429.9 219.2,430.1 221.9,430.5 224.6,430.9 227.2,430.8 229.9,430.3 232.6,429.7 235.3,428.8 238.0,427.9 240.6,426.6 243.3,425.0 246.0,424.0 248.7,422.4 251.3,420.5 254.0,418.7 256.7,417.0 259.4,415.0 262.0,411.7 264.7,408.1 267.4,405.1 270.1,401.8 272.7,397.8 275.4,393.8 278.1,390.5 280.8,387.8 283.4,384.8 286.1,382.0 288.8,379.1 291.5,376.2 294.1,370.7 296.8,363.9 299.5,357.8 302.2,352.7 304.8,347.9 307.5,342.8 310.2,339.0 312.9,334.4 315.5,329.7 318.2,325.5 320.9,320.8 323.6,316.3 326.2,312.6 328.9,309.2 331.6,306.1 334.3,303.4 336.9,300.2 339.6,297.1 342.3,294.2 345.0,292.6 347.6,290.9 350.3,289.3 353.0,288.3 355.7,287.6 358.3,286.6 361.0,285.3 363.7,283.7 366.4,281.4 369.0,280.2 371.7,279.7 374.4,279.8 377.1,280.0 379.7,279.9 382.4,280.1 385.1,280.6 387.8,280.9 390.4,281.2 393.1,280.7 395.8,279.9 398.5,278.1 401.1,278.1 403.8,276.5 406.5,276.4 409.2,276.2 411.8,276.6 414.5,276.5 417.2,276.3 419.9,275.8 422.5,275.7 425.2,276.0 427.9,276.3 430.6,276.3 433.2,276.1 435.9,275.9 438.6,275.6 441.2,275.6 443.9,275.3 446.6,273.8 449.3,271.3 452.0,269.5 454.6,267.2 457.3,264.8 460.0,262.8 462.7,260.6 465.3,258.7 468.0,256.1 470.7,251.4 473.4,247.7 476.0,245.3 478.7,243.6 481.4,241.9 484.1,241.1 486.7,239.7 489.4,239.0 492.1,237.9 494.8,237.3 497.4,236.6 500.1,235.8 502.8,235.7 505.5,235.9 508.1,236.0 510.8,236.9 513.5,237.1 516.2,236.6 518.8,235.6 521.5,234.3 524.2,233.6 526.9,232.8 529.5,232.4 532.2,231.7 534.9,231.3 537.5,230.7 540.2,230.1 542.9,229.4 545.6,228.8 548.2,228.5 550.9,228.3 553.6,228.3 556.3,228.1 559.0,228.1 561.6,228.1 564.3,227.6 567.0,227.1 569.7,226.7 572.3,226.6 575.0,226.6 577.7,227.0 580.4,227.6 583.0,228.5 585.7,229.7 588.4,230.6 591.0,232.1 593.7,233.8 596.4,236.4 599.1,239.8 601.8,243.1 604.4,246.7 607.1,249.7 609.8,251.9 612.5,254.5 615.1,256.9 617.8,259.4 620.5,261.8 623.1,264.2 625.8,266.3 628.5,268.1 631.2,269.9 633.9,271.5 636.5,273.3 639.2,274.9 641.9,276.4 644.5,277.5 647.2,277.7 649.9,277.7 652.6,277.5 655.2,276.4 657.9,275.5 660.6,275.5 663.3,275.4 666.0,275.3 668.6,275.5 671.3,275.5 674.0,276.3 676.6,277.5 679.3,278.6 682.0,279.8 684.7,281.1 687.4,282.4 690.0,283.8 692.7,285.5 695.4,287.0 698.0,288.2 700.7,289.5 703.4,290.5 706.1,292.1 708.8,293.7 711.4,294.4 714.1,294.7 716.8,295.3 719.5,295.9 722.1,296.7 724.8,297.2 727.5,297.8 730.1,298.7 732.8,299.3 735.5,299.9 738.2,300.0 740.9,300.3 743.5,300.5 746.2,300.7 748.9,300.6 751.5,300.6 754.2,300.0 756.9,298.7 759.6,297.2 762.2,295.5 764.9,293.3 767.6,292.2 770.3,291.0 773.0,289.6 775.6,288.5 778.3,287.4 781.0,286.5 783.6,285.1 786.3,284.6 789.0,284.5 791.7,284.6 794.4,284.7 797.0,285.0 799.7,285.4 802.4,286.0 805.0,286.8 807.7,288.4 810.4,290.1 813.1,291.7 815.8,293.0 818.4,294.1 821.1,295.0 823.8,295.8 826.5,296.6 829.1,297.5 831.8,298.5 834.5,299.6 837.1,300.6 839.8,301.4 842.5,302.3" fill="none" stroke="#aa2707" stroke-width="2" stroke-linejoin="round"/><rect x="10" y="432.6" width="1" height="8.4" fill="rgba(8,153,129,0.5)"/><rect x="13" y="433.2" width="1" height="7.8" fill="rgba(8,153,129,0.5)"/><rect x="15" y="429.1" width="1" height="11.9" fill="rgba(8,153,129,0.5)"/><rect x="18" y="433.4" width="1" height="7.6" fill="rgba(8,153,129,0.5)"/><rect x="21" y="427.3" width="1" height="13.7" fill="rgba(242,54,69,0.5)"/><rect x="23" y="427.3" width="1" height="13.7" fill="rgba(8,153,129,0.5)"/><rect x="26" y="391.0" width="1" height="50.0" fill="rgba(8,153,129,0.5)"/><rect x="29" y="377.0" width="1" height="64.0" fill="rgba(8,153,129,0.5)"/><rect x="31" y="428.0" width="1" height="13.0" fill="rgba(242,54,69,0.5)"/><rect x="34" y="426.8" width="1" height="14.2" fill="rgba(8,153,129,0.5)"/><rect x="37" y="396.0" width="1" height="45.0" fill="rgba(8,153,129,0.5)"/><rect x="40" y="431.6" width="1" height="9.4" fill="rgba(242,54,69,0.5)"/><rect x="42" y="419.8" width="1" height="21.2" fill="rgba(242,54,69,0.5)"/><rect x="45" y="420.2" width="1" height="20.8" fill="rgba(8,153,129,0.5)"/><rect x="48" y="432.2" width="1" height="8.8" fill="rgba(242,54,69,0.5)"/><rect x="50" y="432.1" width="1" height="8.9" fill="rgba(8,153,129,0.5)"/><rect x="53" y="423.1" width="1" height="17.9" fill="rgba(242,54,69,0.5)"/><rect x="56" y="423.1" width="1" height="17.9" fill="rgba(242,54,69,0.5)"/><rect x="58" y="425.5" width="1" height="15.5" fill="rgba(242,54,69,0.5)"/><rect x="61" y="428.7" width="1" height="12.3" fill="rgba(242,54,69,0.5)"/><rect x="64" y="415.7" width="1" height="25.3" fill="rgba(8,153,129,0.5)"/><rect x="66" y="431.5" width="1" height="9.5" fill="rgba(242,54,69,0.5)"/><rect x="69" y="422.0" width="1" height="19.0" fill="rgba(8,153,129,0.5)"/><rect x="72" y="426.5" width="1" height="14.5" fill="rgba(8,153,129,0.5)"/><rect x="74" y="431.4" width="1" height="9.6" fill="rgba(8,153,129,0.5)"/><rect x="77" y="425.1" width="1" height="15.9" fill="rgba(242,54,69,0.5)"/><rect x="80" y="427.7" width="1" height="13.3" fill="rgba(8,153,129,0.5)"/><rect x="82" y="425.3" width="1" height="15.7" fill="rgba(242,54,69,0.5)"/><rect x="85" y="431.0" width="1" height="10.0" fill="rgba(242,54,69,0.5)"/><rect x="88" y="425.2" width="1" height="15.8" fill="rgba(8,153,129,0.5)"/><rect x="90" y="423.0" width="1" height="18.0" fill="rgba(242,54,69,0.5)"/><rect x="93" y="431.6" width="1" height="9.4" fill="rgba(8,153,129,0.5)"/><rect x="96" y="433.7" width="1" height="7.3" fill="rgba(8,153,129,0.5)"/><rect x="98" y="434.3" width="1" height="6.7" fill="rgba(242,54,69,0.5)"/><rect x="101" y="436.1" width="1" height="4.9" fill="rgba(8,153,129,0.5)"/><rect x="104" y="434.8" width="1" height="6.2" fill="rgba(242,54,69,0.5)"/><rect x="106" y="432.7" width="1" height="8.3" fill="rgba(8,153,129,0.5)"/><rect x="109" y="430.2" width="1" height="10.8" fill="rgba(242,54,69,0.5)"/><rect x="112" y="434.4" width="1" height="6.6" fill="rgba(8,153,129,0.5)"/><rect x="114" y="430.8" width="1" height="10.2" fill="rgba(8,153,129,0.5)"/><rect x="117" y="432.4" width="1" height="8.6" fill="rgba(8,153,129,0.5)"/><rect x="120" y="435.3" width="1" height="5.7" fill="rgba(242,54,69,0.5)"/><rect x="122" y="428.6" width="1" height="12.4" fill="rgba(8,153,129,0.5)"/><rect x="125" y="431.8" width="1" height="9.2" fill="rgba(242,54,69,0.5)"/><rect x="128" y="434.7" width="1" height="6.3" fill="rgba(242,54,69,0.5)"/><rect x="130" y="433.1" width="1" height="7.9" fill="rgba(242,54,69,0.5)"/><rect x="133" y="432.0" width="1" height="9.0" fill="rgba(8,153,129,0.5)"/><rect x="136" y="430.0" width="1" height="11.0" fill="rgba(242,54,69,0.5)"/><rect x="138" y="432.2" width="1" height="8.8" fill="rgba(8,153,129,0.5)"/><rect x="141" y="434.9" width="1" height="6.1" fill="rgba(8,153,129,0.5)"/><rect x="144" y="427.0" width="1" height="14.0" fill="rgba(8,153,129,0.5)"/><rect x="147" y="435.5" width="1" height="5.5" fill="rgba(8,153,129,0.5)"/><rect x="149" y="434.2" width="1" height="6.8" fill="rgba(242,54,69,0.5)"/><rect x="152" y="431.2" width="1" height="9.8" fill="rgba(242,54,69,0.5)"/><rect x="155" y="435.0" width="1" height="6.0" fill="rgba(242,54,69,0.5)"/><rect x="157" y="434.3" width="1" height="6.7" fill="rgba(8,153,129,0.5)"/><rect x="160" y="436.6" width="1" height="4.4" fill="rgba(242,54,69,0.5)"/><rect x="163" y="433.4" width="1" height="7.6" fill="rgba(242,54,69,0.5)"/><rect x="165" y="432.9" width="1" height="8.1" fill="rgba(242,54,69,0.5)"/><rect x="168" y="433.9" width="1" height="7.1" fill="rgba(8,153,129,0.5)"/><rect x="171" y="433.2" width="1" height="7.8" fill="rgba(242,54,69,0.5)"/><rect x="173" y="434.9" width="1" height="6.1" fill="rgba(242,54,69,0.5)"/><rect x="176" y="434.0" width="1" height="7.0" fill="rgba(242,54,69,0.5)"/><rect x="179" y="433.8" width="1" height="7.2" fill="rgba(8,153,129,0.5)"/><rect x="181" y="434.2" width="1" height="6.8" fill="rgba(8,153,129,0.5)"/><rect x="184" y="433.8" width="1" height="7.2" fill="rgba(8,153,129,0.5)"/><rect x="187" y="432.0" width="1" height="9.0" fill="rgba(242,54,69,0.5)"/><rect x="189" y="432.4" width="1" height="8.6" fill="rgba(242,54,69,0.5)"/><rect x="192" y="434.7" width="1" height="6.3" fill="rgba(8,153,129,0.5)"/><rect x="195" y="433.8" width="1" height="7.2" fill="rgba(8,153,129,0.5)"/><rect x="197" y="436.1" width="1" height="4.9" fill="rgba(8,153,129,0.5)"/><rect x="200" y="433.2" width="1" height="7.8" fill="rgba(8,153,129,0.5)"/><rect x="203" y="433.9" width="1" height="7.1" fill="rgba(242,54,69,0.5)"/><rect x="205" y="434.2" width="1" height="6.8" fill="rgba(242,54,69,0.5)"/><rect x="208" y="433.5" width="1" height="7.5" fill="rgba(8,153,129,0.5)"/><rect x="211" y="435.1" width="1" height="5.9" fill="rgba(8,153,129,0.5)"/><rect x="213" y="433.2" width="1" height="7.8" fill="rgba(8,153,129,0.5)"/><rect x="216" y="432.6" width="1" height="8.4" fill="rgba(242,54,69,0.5)"/><rect x="219" y="436.3" width="1" height="4.7" fill="rgba(242,54,69,0.5)"/><rect x="221" y="432.7" width="1" height="8.3" fill="rgba(242,54,69,0.5)"/><rect x="224" y="436.5" width="1" height="4.5" fill="rgba(242,54,69,0.5)"/><rect x="227" y="435.0" width="1" height="6.0" fill="rgba(8,153,129,0.5)"/><rect x="229" y="434.1" width="1" height="6.9" fill="rgba(8,153,129,0.5)"/><rect x="232" y="429.7" width="1" height="11.3" fill="rgba(8,153,129,0.5)"/><rect x="235" y="433.3" width="1" height="7.7" fill="rgba(8,153,129,0.5)"/><rect x="237" y="431.5" width="1" height="9.5" fill="rgba(8,153,129,0.5)"/><rect x="240" y="427.7" width="1" height="13.3" fill="rgba(8,153,129,0.5)"/><rect x="243" y="420.4" width="1" height="20.6" fill="rgba(8,153,129,0.5)"/><rect x="245" y="427.4" width="1" height="13.6" fill="rgba(242,54,69,0.5)"/><rect x="248" y="418.9" width="1" height="22.1" fill="rgba(8,153,129,0.5)"/><rect x="251" y="415.6" width="1" height="25.4" fill="rgba(8,153,129,0.5)"/><rect x="254" y="413.4" width="1" height="27.6" fill="rgba(242,54,69,0.5)"/><rect x="256" y="416.1" width="1" height="24.9" fill="rgba(8,153,129,0.5)"/><rect x="259" y="416.8" width="1" height="24.2" fill="rgba(8,153,129,0.5)"/><rect x="262" y="386.0" width="1" height="55.0" fill="rgba(8,153,129,0.5)"/><rect x="264" y="414.1" width="1" height="26.9" fill="rgba(8,153,129,0.5)"/><rect x="267" y="411.6" width="1" height="29.4" fill="rgba(242,54,69,0.5)"/><rect x="270" y="396.4" width="1" height="44.6" fill="rgba(8,153,129,0.5)"/><rect x="272" y="392.5" width="1" height="48.5" fill="rgba(8,153,129,0.5)"/><rect x="275" y="416.9" width="1" height="24.1" fill="rgba(8,153,129,0.5)"/><rect x="278" y="415.3" width="1" height="25.7" fill="rgba(242,54,69,0.5)"/><rect x="280" y="409.2" width="1" height="31.8" fill="rgba(242,54,69,0.5)"/><rect x="283" y="416.7" width="1" height="24.3" fill="rgba(8,153,129,0.5)"/><rect x="286" y="407.2" width="1" height="33.8" fill="rgba(242,54,69,0.5)"/><rect x="288" y="401.9" width="1" height="39.1" fill="rgba(242,54,69,0.5)"/><rect x="291" y="409.4" width="1" height="31.6" fill="rgba(8,153,129,0.5)"/><rect x="294" y="333.0" width="1" height="108.0" fill="rgba(8,153,129,0.5)"/><rect x="296" y="341.0" width="1" height="100.0" fill="rgba(8,153,129,0.5)"/><rect x="299" y="371.0" width="1" height="70.0" fill="rgba(242,54,69,0.5)"/><rect x="302" y="387.0" width="1" height="54.0" fill="rgba(242,54,69,0.5)"/><rect x="304" y="398.3" width="1" height="42.7" fill="rgba(242,54,69,0.5)"/><rect x="307" y="407.4" width="1" height="33.6" fill="rgba(8,153,129,0.5)"/><rect x="310" y="413.7" width="1" height="27.3" fill="rgba(242,54,69,0.5)"/><rect x="312" y="411.6" width="1" height="29.4" fill="rgba(8,153,129,0.5)"/><rect x="315" y="410.5" width="1" height="30.5" fill="rgba(8,153,129,0.5)"/><rect x="318" y="397.0" width="1" height="44.0" fill="rgba(242,54,69,0.5)"/><rect x="320" y="406.0" width="1" height="35.0" fill="rgba(8,153,129,0.5)"/><rect x="323" y="408.6" width="1" height="32.4" fill="rgba(8,153,129,0.5)"/><rect x="326" y="406.7" width="1" height="34.3" fill="rgba(242,54,69,0.5)"/><rect x="328" y="408.4" width="1" height="32.6" fill="rgba(242,54,69,0.5)"/><rect x="331" y="416.7" width="1" height="24.3" fill="rgba(242,54,69,0.5)"/><rect x="334" y="420.9" width="1" height="20.1" fill="rgba(242,54,69,0.5)"/><rect x="336" y="422.7" width="1" height="18.3" fill="rgba(8,153,129,0.5)"/><rect x="339" y="418.3" width="1" height="22.7" fill="rgba(8,153,129,0.5)"/><rect x="342" y="428.9" width="1" height="12.1" fill="rgba(242,54,69,0.5)"/><rect x="344" y="423.6" width="1" height="17.4" fill="rgba(242,54,69,0.5)"/><rect x="347" y="420.8" width="1" height="20.2" fill="rgba(8,153,129,0.5)"/><rect x="350" y="401.0" width="1" height="40.0" fill="rgba(242,54,69,0.5)"/><rect x="352" y="418.2" width="1" height="22.8" fill="rgba(242,54,69,0.5)"/><rect x="355" y="424.0" width="1" height="17.0" fill="rgba(242,54,69,0.5)"/><rect x="358" y="425.3" width="1" height="15.7" fill="rgba(8,153,129,0.5)"/><rect x="361" y="427.1" width="1" height="13.9" fill="rgba(8,153,129,0.5)"/><rect x="363" y="423.2" width="1" height="17.8" fill="rgba(8,153,129,0.5)"/><rect x="366" y="409.0" width="1" height="32.0" fill="rgba(8,153,129,0.5)"/><rect x="369" y="424.8" width="1" height="16.2" fill="rgba(242,54,69,0.5)"/><rect x="371" y="409.9" width="1" height="31.1" fill="rgba(242,54,69,0.5)"/><rect x="374" y="413.4" width="1" height="27.6" fill="rgba(242,54,69,0.5)"/><rect x="377" y="427.4" width="1" height="13.6" fill="rgba(242,54,69,0.5)"/><rect x="379" y="422.7" width="1" height="18.3" fill="rgba(8,153,129,0.5)"/><rect x="382" y="425.9" width="1" height="15.1" fill="rgba(242,54,69,0.5)"/><rect x="385" y="424.4" width="1" height="16.6" fill="rgba(242,54,69,0.5)"/><rect x="387" y="426.1" width="1" height="14.9" fill="rgba(242,54,69,0.5)"/><rect x="390" y="415.8" width="1" height="25.2" fill="rgba(8,153,129,0.5)"/><rect x="393" y="406.6" width="1" height="34.4" fill="rgba(8,153,129,0.5)"/><rect x="395" y="402.0" width="1" height="39.0" fill="rgba(8,153,129,0.5)"/><rect x="398" y="416.5" width="1" height="24.5" fill="rgba(8,153,129,0.5)"/><rect x="401" y="405.0" width="1" height="36.0" fill="rgba(242,54,69,0.5)"/><rect x="403" y="423.9" width="1" height="17.1" fill="rgba(8,153,129,0.5)"/><rect x="406" y="419.4" width="1" height="21.6" fill="rgba(242,54,69,0.5)"/><rect x="409" y="422.1" width="1" height="18.9" fill="rgba(8,153,129,0.5)"/><rect x="411" y="415.1" width="1" height="25.9" fill="rgba(242,54,69,0.5)"/><rect x="414" y="422.9" width="1" height="18.1" fill="rgba(8,153,129,0.5)"/><rect x="417" y="425.6" width="1" height="15.4" fill="rgba(8,153,129,0.5)"/><rect x="419" y="415.2" width="1" height="25.8" fill="rgba(8,153,129,0.5)"/><rect x="422" y="419.2" width="1" height="21.8" fill="rgba(242,54,69,0.5)"/><rect x="425" y="424.4" width="1" height="16.6" fill="rgba(242,54,69,0.5)"/><rect x="427" y="421.5" width="1" height="19.5" fill="rgba(242,54,69,0.5)"/><rect x="430" y="429.7" width="1" height="11.3" fill="rgba(8,153,129,0.5)"/><rect x="433" y="419.1" width="1" height="21.9" fill="rgba(8,153,129,0.5)"/><rect x="435" y="419.2" width="1" height="21.8" fill="rgba(242,54,69,0.5)"/><rect x="438" y="413.0" width="1" height="28.0" fill="rgba(8,153,129,0.5)"/><rect x="441" y="413.5" width="1" height="27.5" fill="rgba(242,54,69,0.5)"/><rect x="443" y="426.6" width="1" height="14.4" fill="rgba(8,153,129,0.5)"/><rect x="446" y="389.0" width="1" height="52.0" fill="rgba(8,153,129,0.5)"/><rect x="449" y="346.0" width="1" height="95.0" fill="rgba(8,153,129,0.5)"/><rect x="451" y="412.2" width="1" height="28.8" fill="rgba(242,54,69,0.5)"/><rect x="454" y="416.6" width="1" height="24.4" fill="rgba(8,153,129,0.5)"/><rect x="457" y="413.8" width="1" height="27.2" fill="rgba(8,153,129,0.5)"/><rect x="459" y="426.9" width="1" height="14.1" fill="rgba(242,54,69,0.5)"/><rect x="462" y="422.3" width="1" height="18.7" fill="rgba(8,153,129,0.5)"/><rect x="465" y="411.6" width="1" height="29.4" fill="rgba(242,54,69,0.5)"/><rect x="468" y="408.5" width="1" height="32.5" fill="rgba(8,153,129,0.5)"/><rect x="470" y="379.0" width="1" height="62.0" fill="rgba(8,153,129,0.5)"/><rect x="473" y="389.0" width="1" height="52.0" fill="rgba(242,54,69,0.5)"/><rect x="476" y="391.0" width="1" height="50.0" fill="rgba(242,54,69,0.5)"/><rect x="478" y="372.0" width="1" height="69.0" fill="rgba(242,54,69,0.5)"/><rect x="481" y="422.4" width="1" height="18.6" fill="rgba(8,153,129,0.5)"/><rect x="484" y="417.1" width="1" height="23.9" fill="rgba(242,54,69,0.5)"/><rect x="486" y="420.1" width="1" height="20.9" fill="rgba(8,153,129,0.5)"/><rect x="489" y="426.0" width="1" height="15.0" fill="rgba(242,54,69,0.5)"/><rect x="492" y="426.0" width="1" height="15.0" fill="rgba(8,153,129,0.5)"/><rect x="494" y="423.8" width="1" height="17.2" fill="rgba(242,54,69,0.5)"/><rect x="497" y="425.8" width="1" height="15.2" fill="rgba(8,153,129,0.5)"/><rect x="500" y="419.1" width="1" height="21.9" fill="rgba(8,153,129,0.5)"/><rect x="502" y="409.4" width="1" height="31.6" fill="rgba(242,54,69,0.5)"/><rect x="505" y="418.6" width="1" height="22.4" fill="rgba(242,54,69,0.5)"/><rect x="508" y="419.8" width="1" height="21.2" fill="rgba(242,54,69,0.5)"/><rect x="510" y="408.9" width="1" height="32.1" fill="rgba(242,54,69,0.5)"/><rect x="513" y="415.4" width="1" height="25.6" fill="rgba(8,153,129,0.5)"/><rect x="516" y="420.2" width="1" height="20.8" fill="rgba(8,153,129,0.5)"/><rect x="518" y="411.0" width="1" height="30.0" fill="rgba(8,153,129,0.5)"/><rect x="521" y="426.4" width="1" height="14.6" fill="rgba(8,153,129,0.5)"/><rect x="524" y="423.9" width="1" height="17.1" fill="rgba(242,54,69,0.5)"/><rect x="526" y="424.5" width="1" height="16.5" fill="rgba(8,153,129,0.5)"/><rect x="529" y="418.1" width="1" height="22.9" fill="rgba(242,54,69,0.5)"/><rect x="532" y="419.6" width="1" height="21.4" fill="rgba(8,153,129,0.5)"/><rect x="534" y="411.9" width="1" height="29.1" fill="rgba(242,54,69,0.5)"/><rect x="537" y="424.7" width="1" height="16.3" fill="rgba(8,153,129,0.5)"/><rect x="540" y="424.6" width="1" height="16.4" fill="rgba(8,153,129,0.5)"/><rect x="542" y="413.4" width="1" height="27.6" fill="rgba(8,153,129,0.5)"/><rect x="545" y="429.6" width="1" height="11.4" fill="rgba(242,54,69,0.5)"/><rect x="548" y="420.0" width="1" height="21.0" fill="rgba(242,54,69,0.5)"/><rect x="550" y="418.7" width="1" height="22.3" fill="rgba(242,54,69,0.5)"/><rect x="553" y="423.7" width="1" height="17.3" fill="rgba(242,54,69,0.5)"/><rect x="556" y="420.1" width="1" height="20.9" fill="rgba(8,153,129,0.5)"/><rect x="558" y="418.5" width="1" height="22.5" fill="rgba(242,54,69,0.5)"/><rect x="561" y="423.8" width="1" height="17.2" fill="rgba(8,153,129,0.5)"/><rect x="564" y="417.7" width="1" height="23.3" fill="rgba(8,153,129,0.5)"/><rect x="566" y="421.1" width="1" height="19.9" fill="rgba(8,153,129,0.5)"/><rect x="569" y="418.5" width="1" height="22.5" fill="rgba(242,54,69,0.5)"/><rect x="572" y="418.1" width="1" height="22.9" fill="rgba(242,54,69,0.5)"/><rect x="575" y="420.7" width="1" height="20.3" fill="rgba(242,54,69,0.5)"/><rect x="577" y="425.5" width="1" height="15.5" fill="rgba(242,54,69,0.5)"/><rect x="580" y="417.6" width="1" height="23.4" fill="rgba(242,54,69,0.5)"/><rect x="583" y="414.4" width="1" height="26.6" fill="rgba(242,54,69,0.5)"/><rect x="585" y="428.7" width="1" height="12.3" fill="rgba(242,54,69,0.5)"/><rect x="588" y="428.3" width="1" height="12.7" fill="rgba(8,153,129,0.5)"/><rect x="591" y="426.6" width="1" height="14.4" fill="rgba(242,54,69,0.5)"/><rect x="593" y="417.0" width="1" height="24.0" fill="rgba(242,54,69,0.5)"/><rect x="596" y="413.1" width="1" height="27.9" fill="rgba(242,54,69,0.5)"/><rect x="599" y="405.0" width="1" height="36.0" fill="rgba(242,54,69,0.5)"/><rect x="601" y="419.4" width="1" height="21.6" fill="rgba(242,54,69,0.5)"/><rect x="604" y="407.0" width="1" height="34.0" fill="rgba(242,54,69,0.5)"/><rect x="607" y="417.3" width="1" height="23.7" fill="rgba(8,153,129,0.5)"/><rect x="609" y="423.5" width="1" height="17.5" fill="rgba(8,153,129,0.5)"/><rect x="612" y="425.7" width="1" height="15.3" fill="rgba(242,54,69,0.5)"/><rect x="615" y="431.6" width="1" height="9.4" fill="rgba(242,54,69,0.5)"/><rect x="617" y="432.4" width="1" height="8.6" fill="rgba(242,54,69,0.5)"/><rect x="620" y="424.0" width="1" height="17.0" fill="rgba(8,153,129,0.5)"/><rect x="623" y="423.3" width="1" height="17.7" fill="rgba(242,54,69,0.5)"/><rect x="625" y="425.0" width="1" height="16.0" fill="rgba(8,153,129,0.5)"/><rect x="628" y="416.7" width="1" height="24.3" fill="rgba(8,153,129,0.5)"/><rect x="631" y="425.3" width="1" height="15.7" fill="rgba(242,54,69,0.5)"/><rect x="633" y="425.9" width="1" height="15.1" fill="rgba(8,153,129,0.5)"/><rect x="636" y="423.2" width="1" height="17.8" fill="rgba(242,54,69,0.5)"/><rect x="639" y="430.9" width="1" height="10.1" fill="rgba(8,153,129,0.5)"/><rect x="641" y="407.0" width="1" height="34.0" fill="rgba(8,153,129,0.5)"/><rect x="644" y="427.5" width="1" height="13.5" fill="rgba(8,153,129,0.5)"/><rect x="647" y="423.5" width="1" height="17.5" fill="rgba(8,153,129,0.5)"/><rect x="649" y="417.8" width="1" height="23.2" fill="rgba(8,153,129,0.5)"/><rect x="652" y="425.9" width="1" height="15.1" fill="rgba(8,153,129,0.5)"/><rect x="655" y="401.0" width="1" height="40.0" fill="rgba(8,153,129,0.5)"/><rect x="657" y="432.0" width="1" height="9.0" fill="rgba(242,54,69,0.5)"/><rect x="660" y="412.6" width="1" height="28.4" fill="rgba(242,54,69,0.5)"/><rect x="663" y="425.8" width="1" height="15.2" fill="rgba(8,153,129,0.5)"/><rect x="665" y="428.3" width="1" height="12.7" fill="rgba(8,153,129,0.5)"/><rect x="668" y="424.3" width="1" height="16.7" fill="rgba(242,54,69,0.5)"/><rect x="671" y="422.9" width="1" height="18.1" fill="rgba(8,153,129,0.5)"/><rect x="673" y="422.7" width="1" height="18.3" fill="rgba(242,54,69,0.5)"/><rect x="676" y="417.7" width="1" height="23.3" fill="rgba(242,54,69,0.5)"/><rect x="679" y="428.6" width="1" height="12.4" fill="rgba(8,153,129,0.5)"/><rect x="682" y="428.1" width="1" height="12.9" fill="rgba(242,54,69,0.5)"/><rect x="684" y="428.2" width="1" height="12.8" fill="rgba(242,54,69,0.5)"/><rect x="687" y="433.5" width="1" height="7.5" fill="rgba(242,54,69,0.5)"/><rect x="690" y="408.0" width="1" height="33.0" fill="rgba(242,54,69,0.5)"/><rect x="692" y="411.0" width="1" height="30.0" fill="rgba(242,54,69,0.5)"/><rect x="695" y="430.2" width="1" height="10.8" fill="rgba(8,153,129,0.5)"/><rect x="698" y="423.4" width="1" height="17.6" fill="rgba(8,153,129,0.5)"/><rect x="700" y="430.8" width="1" height="10.2" fill="rgba(242,54,69,0.5)"/><rect x="703" y="423.7" width="1" height="17.3" fill="rgba(8,153,129,0.5)"/><rect x="706" y="417.2" width="1" height="23.8" fill="rgba(242,54,69,0.5)"/><rect x="708" y="427.4" width="1" height="13.6" fill="rgba(242,54,69,0.5)"/><rect x="711" y="422.8" width="1" height="18.2" fill="rgba(8,153,129,0.5)"/><rect x="714" y="419.7" width="1" height="21.3" fill="rgba(8,153,129,0.5)"/><rect x="716" y="425.5" width="1" height="15.5" fill="rgba(242,54,69,0.5)"/><rect x="719" y="425.9" width="1" height="15.1" fill="rgba(242,54,69,0.5)"/><rect x="722" y="431.3" width="1" height="9.7" fill="rgba(242,54,69,0.5)"/><rect x="724" y="428.6" width="1" height="12.4" fill="rgba(8,153,129,0.5)"/><rect x="727" y="430.2" width="1" height="10.8" fill="rgba(242,54,69,0.5)"/><rect x="730" y="430.2" width="1" height="10.8" fill="rgba(242,54,69,0.5)"/><rect x="732" y="424.9" width="1" height="16.1" fill="rgba(8,153,129,0.5)"/><rect x="735" y="427.5" width="1" height="13.5" fill="rgba(8,153,129,0.5)"/><rect x="738" y="423.0" width="1" height="18.0" fill="rgba(8,153,129,0.5)"/><rect x="740" y="418.2" width="1" height="22.8" fill="rgba(242,54,69,0.5)"/><rect x="743" y="423.3" width="1" height="17.7" fill="rgba(8,153,129,0.5)"/><rect x="746" y="428.1" width="1" height="12.9" fill="rgba(8,153,129,0.5)"/><rect x="748" y="420.5" width="1" height="20.5" fill="rgba(8,153,129,0.5)"/><rect x="751" y="426.9" width="1" height="14.1" fill="rgba(242,54,69,0.5)"/><rect x="754" y="422.3" width="1" height="18.7" fill="rgba(8,153,129,0.5)"/><rect x="756" y="398.0" width="1" height="43.0" fill="rgba(8,153,129,0.5)"/><rect x="759" y="420.7" width="1" height="20.3" fill="rgba(242,54,69,0.5)"/><rect x="762" y="424.7" width="1" height="16.3" fill="rgba(8,153,129,0.5)"/><rect x="764" y="404.0" width="1" height="37.0" fill="rgba(8,153,129,0.5)"/><rect x="767" y="412.8" width="1" height="28.2" fill="rgba(242,54,69,0.5)"/><rect x="770" y="419.8" width="1" height="21.2" fill="rgba(8,153,129,0.5)"/><rect x="772" y="418.6" width="1" height="22.4" fill="rgba(8,153,129,0.5)"/><rect x="775" y="421.4" width="1" height="19.6" fill="rgba(242,54,69,0.5)"/><rect x="778" y="432.1" width="1" height="8.9" fill="rgba(8,153,129,0.5)"/><rect x="780" y="425.3" width="1" height="15.7" fill="rgba(242,54,69,0.5)"/><rect x="783" y="410.0" width="1" height="31.0" fill="rgba(8,153,129,0.5)"/><rect x="786" y="414.5" width="1" height="26.5" fill="rgba(242,54,69,0.5)"/><rect x="789" y="427.6" width="1" height="13.4" fill="rgba(242,54,69,0.5)"/><rect x="791" y="431.3" width="1" height="9.7" fill="rgba(242,54,69,0.5)"/><rect x="794" y="421.9" width="1" height="19.1" fill="rgba(8,153,129,0.5)"/><rect x="797" y="432.3" width="1" height="8.7" fill="rgba(242,54,69,0.5)"/><rect x="799" y="427.7" width="1" height="13.3" fill="rgba(242,54,69,0.5)"/><rect x="802" y="427.3" width="1" height="13.7" fill="rgba(242,54,69,0.5)"/><rect x="805" y="427.3" width="1" height="13.7" fill="rgba(242,54,69,0.5)"/><rect x="807" y="387.0" width="1" height="54.0" fill="rgba(242,54,69,0.5)"/><rect x="810" y="422.8" width="1" height="18.2" fill="rgba(242,54,69,0.5)"/><rect x="813" y="428.8" width="1" height="12.2" fill="rgba(242,54,69,0.5)"/><rect x="815" y="421.5" width="1" height="19.5" fill="rgba(8,153,129,0.5)"/><rect x="818" y="426.5" width="1" height="14.5" fill="rgba(8,153,129,0.5)"/><rect x="821" y="431.7" width="1" height="9.3" fill="rgba(8,153,129,0.5)"/><rect x="823" y="425.4" width="1" height="15.6" fill="rgba(8,153,129,0.5)"/><rect x="826" y="426.1" width="1" height="14.9" fill="rgba(8,153,129,0.5)"/><rect x="829" y="432.9" width="1" height="8.1" fill="rgba(242,54,69,0.5)"/><rect x="831" y="424.9" width="1" height="16.1" fill="rgba(242,54,69,0.5)"/><rect x="834" y="431.1" width="1" height="9.9" fill="rgba(242,54,69,0.5)"/><rect x="837" y="430.4" width="1" height="10.6" fill="rgba(8,153,129,0.5)"/><rect x="839" y="428.7" width="1" height="12.3" fill="rgba(8,153,129,0.5)"/><rect x="842" y="427.8" width="1" height="13.2" fill="rgba(242,54,69,0.5)"/><polyline points="692.2,333 764.3,234 811.5,342 947.8,183.9" fill="none" stroke="#689ff2" stroke-width="2" stroke-linejoin="round"/><polyline points="932,184.6 947.8,183.9 948.4,198.2" fill="none" stroke="#689ff2" stroke-width="2" stroke-linejoin="round" stroke-linecap="round"/><line x1="295" y1="154" x2="965.3" y2="262.9" stroke="#0b2a20" stroke-width="2"/><line x1="270.3" y1="325.5" x2="970" y2="347.9" stroke="#0b2a20" stroke-width="2"/><rect x="10" y="438.5" width="1" height="3.0" fill="#089981"/><rect x="9" y="440.0" width="3" height="1.0" fill="#089981"/><rect x="13" y="437.0" width="1" height="4.0" fill="#089981"/><rect x="12" y="438.0" width="3" height="2.0" fill="#089981"/><rect x="15" y="437.0" width="1" height="4.0" fill="#089981"/><rect x="14" y="438.5" width="3" height="1.5" fill="#089981"/><rect x="18" y="436.0" width="1" height="5.0" fill="#089981"/><rect x="17" y="438.5" width="3" height="2.0" fill="#089981"/><rect x="21" y="433.0" width="1" height="8.0" fill="#f23645"/><rect x="20" y="438.5" width="3" height="2.0" fill="#f23645"/><rect x="23" y="430.0" width="1" height="11.0" fill="#089981"/><rect x="22" y="430.0" width="3" height="10.5" fill="#089981"/><rect x="26" y="408.0" width="1" height="23.0" fill="#089981"/><rect x="25" y="409.8" width="3" height="20.8" fill="#089981"/><rect x="29" y="393.2" width="1" height="36.8" fill="#089981"/><rect x="28" y="404.9" width="3" height="12.8" fill="#089981"/><rect x="31" y="399.4" width="1" height="18.4" fill="#f23645"/><rect x="30" y="404.9" width="3" height="6.7" fill="#f23645"/><rect x="34" y="403.0" width="1" height="10.5" fill="#089981"/><rect x="33" y="405.5" width="3" height="6.1" fill="#089981"/><rect x="37" y="373.0" width="1" height="33.0" fill="#089981"/><rect x="36" y="383.4" width="3" height="22.1" fill="#089981"/><rect x="40" y="380.3" width="1" height="8.7" fill="#f23645"/><rect x="39" y="383.4" width="3" height="4.9" fill="#f23645"/><rect x="42" y="384.0" width="1" height="22.0" fill="#f23645"/><rect x="41" y="387.7" width="3" height="17.8" fill="#f23645"/><rect x="45" y="396.0" width="1" height="13.0" fill="#089981"/><rect x="44" y="397.5" width="3" height="8.0" fill="#089981"/><rect x="48" y="396.0" width="1" height="6.5" fill="#f23645"/><rect x="47" y="397.5" width="3" height="4.3" fill="#f23645"/><rect x="50" y="398.0" width="1" height="5.0" fill="#089981"/><rect x="49" y="400.0" width="3" height="1.0" fill="#089981"/><rect x="53" y="399.0" width="1" height="12.6" fill="#f23645"/><rect x="52" y="400.0" width="3" height="1.0" fill="#f23645"/><rect x="56" y="400.0" width="1" height="8.0" fill="#f23645"/><rect x="55" y="401.8" width="3" height="5.5" fill="#f23645"/><rect x="58" y="402.0" width="1" height="10.0" fill="#f23645"/><rect x="57" y="403.7" width="3" height="7.9" fill="#f23645"/><rect x="61" y="407.0" width="1" height="8.0" fill="#f23645"/><rect x="60" y="408.6" width="3" height="4.3" fill="#f23645"/><rect x="64" y="399.4" width="1" height="15.9" fill="#089981"/><rect x="63" y="409.2" width="3" height="3.7" fill="#089981"/><rect x="66" y="406.0" width="1" height="10.0" fill="#f23645"/><rect x="65" y="406.7" width="3" height="8.6" fill="#f23645"/><rect x="69" y="411.0" width="1" height="10.4" fill="#089981"/><rect x="68" y="412.2" width="3" height="2.5" fill="#089981"/><rect x="72" y="399.0" width="1" height="14.0" fill="#089981"/><rect x="71" y="400.0" width="3" height="12.2" fill="#089981"/><rect x="74" y="393.2" width="1" height="7.8" fill="#089981"/><rect x="73" y="398.0" width="3" height="2.0" fill="#089981"/><rect x="77" y="397.0" width="1" height="23.0" fill="#f23645"/><rect x="76" y="397.5" width="3" height="21.5" fill="#f23645"/><rect x="80" y="410.0" width="1" height="11.4" fill="#089981"/><rect x="79" y="411.6" width="3" height="7.4" fill="#089981"/><rect x="82" y="408.0" width="1" height="7.0" fill="#f23645"/><rect x="81" y="408.6" width="3" height="5.4" fill="#f23645"/><rect x="85" y="409.0" width="1" height="8.0" fill="#f23645"/><rect x="84" y="410.0" width="3" height="6.5" fill="#f23645"/><rect x="88" y="412.3" width="1" height="10.4" fill="#089981"/><rect x="87" y="414.0" width="3" height="3.0" fill="#089981"/><rect x="90" y="412.3" width="1" height="14.5" fill="#f23645"/><rect x="89" y="412.7" width="3" height="7.3" fill="#f23645"/><rect x="93" y="417.3" width="1" height="11.3" fill="#089981"/><rect x="92" y="418.2" width="3" height="4.5" fill="#089981"/><rect x="96" y="413.2" width="1" height="7.8" fill="#089981"/><rect x="95" y="413.6" width="3" height="6.4" fill="#089981"/><rect x="98" y="413.5" width="1" height="16.5" fill="#f23645"/><rect x="97" y="414.0" width="3" height="5.5" fill="#f23645"/><rect x="101" y="412.3" width="1" height="8.7" fill="#089981"/><rect x="100" y="416.4" width="3" height="4.1" fill="#089981"/><rect x="104" y="413.0" width="1" height="10.5" fill="#f23645"/><rect x="103" y="416.4" width="3" height="6.3" fill="#f23645"/><rect x="106" y="415.0" width="1" height="8.5" fill="#089981"/><rect x="105" y="416.0" width="3" height="6.7" fill="#089981"/><rect x="109" y="415.5" width="1" height="20.5" fill="#f23645"/><rect x="108" y="416.4" width="3" height="8.6" fill="#f23645"/><rect x="112" y="417.0" width="1" height="9.8" fill="#089981"/><rect x="111" y="417.7" width="3" height="7.3" fill="#089981"/><rect x="114" y="405.0" width="1" height="15.0" fill="#089981"/><rect x="113" y="405.5" width="3" height="14.0" fill="#089981"/><rect x="117" y="396.8" width="1" height="13.2" fill="#089981"/><rect x="116" y="406.8" width="3" height="2.7" fill="#089981"/><rect x="120" y="403.0" width="1" height="7.0" fill="#f23645"/><rect x="119" y="406.8" width="3" height="2.2" fill="#f23645"/><rect x="122" y="396.0" width="1" height="16.5" fill="#089981"/><rect x="121" y="403.2" width="3" height="9.1" fill="#089981"/><rect x="125" y="399.0" width="1" height="10.5" fill="#f23645"/><rect x="124" y="403.2" width="3" height="4.5" fill="#f23645"/><rect x="128" y="404.0" width="1" height="10.0" fill="#f23645"/><rect x="127" y="406.8" width="3" height="6.4" fill="#f23645"/><rect x="130" y="408.0" width="1" height="9.0" fill="#f23645"/><rect x="129" y="409.0" width="3" height="7.4" fill="#f23645"/><rect x="133" y="403.0" width="1" height="13.0" fill="#089981"/><rect x="132" y="410.5" width="3" height="4.5" fill="#089981"/><rect x="136" y="409.0" width="1" height="12.0" fill="#f23645"/><rect x="135" y="409.5" width="3" height="11.0" fill="#f23645"/><rect x="138" y="413.0" width="1" height="9.0" fill="#089981"/><rect x="137" y="414.5" width="3" height="6.5" fill="#089981"/><rect x="141" y="411.4" width="1" height="8.6" fill="#089981"/><rect x="140" y="414.0" width="3" height="5.5" fill="#089981"/><rect x="144" y="399.0" width="1" height="17.0" fill="#089981"/><rect x="143" y="406.8" width="3" height="8.2" fill="#089981"/><rect x="147" y="398.0" width="1" height="10.0" fill="#089981"/><rect x="146" y="403.2" width="3" height="4.5" fill="#089981"/><rect x="149" y="401.4" width="1" height="8.6" fill="#f23645"/><rect x="148" y="403.2" width="3" height="6.3" fill="#f23645"/><rect x="152" y="408.0" width="1" height="11.0" fill="#f23645"/><rect x="151" y="408.6" width="3" height="9.6" fill="#f23645"/><rect x="155" y="417.0" width="1" height="11.0" fill="#f23645"/><rect x="154" y="417.3" width="3" height="10.4" fill="#f23645"/><rect x="157" y="421.4" width="1" height="7.1" fill="#089981"/><rect x="156" y="424.0" width="3" height="3.7" fill="#089981"/><rect x="160" y="423.5" width="1" height="7.0" fill="#f23645"/><rect x="159" y="424.0" width="3" height="5.5" fill="#f23645"/><rect x="163" y="427.0" width="1" height="7.0" fill="#f23645"/><rect x="162" y="428.4" width="3" height="5.0" fill="#f23645"/><rect x="165" y="430.0" width="1" height="7.0" fill="#f23645"/><rect x="164" y="430.7" width="3" height="5.9" fill="#f23645"/><rect x="168" y="431.0" width="1" height="7.0" fill="#089981"/><rect x="167" y="436.0" width="3" height="1.0" fill="#089981"/><rect x="171" y="433.0" width="1" height="5.0" fill="#f23645"/><rect x="170" y="434.0" width="3" height="3.2" fill="#f23645"/><rect x="173" y="433.0" width="1" height="9.0" fill="#f23645"/><rect x="172" y="434.2" width="3" height="6.5" fill="#f23645"/><rect x="176" y="436.0" width="1" height="7.0" fill="#f23645"/><rect x="175" y="437.0" width="3" height="4.0" fill="#f23645"/><rect x="179" y="434.0" width="1" height="8.0" fill="#089981"/><rect x="178" y="439.5" width="3" height="1.5" fill="#089981"/><rect x="181" y="435.0" width="1" height="7.0" fill="#089981"/><rect x="180" y="436.0" width="3" height="4.7" fill="#089981"/><rect x="184" y="431.0" width="1" height="9.0" fill="#089981"/><rect x="183" y="432.0" width="3" height="7.5" fill="#089981"/><rect x="187" y="433.0" width="1" height="9.0" fill="#f23645"/><rect x="186" y="434.2" width="3" height="6.5" fill="#f23645"/><rect x="189" y="435.0" width="1" height="7.0" fill="#f23645"/><rect x="188" y="436.0" width="3" height="4.7" fill="#f23645"/><rect x="192" y="435.0" width="1" height="7.0" fill="#089981"/><rect x="191" y="436.0" width="3" height="4.7" fill="#089981"/><rect x="195" y="435.0" width="1" height="7.0" fill="#089981"/><rect x="194" y="436.3" width="3" height="4.4" fill="#089981"/><rect x="197" y="432.0" width="1" height="10.0" fill="#089981"/><rect x="196" y="432.5" width="3" height="8.2" fill="#089981"/><rect x="200" y="431.0" width="1" height="7.0" fill="#089981"/><rect x="199" y="432.2" width="3" height="5.0" fill="#089981"/><rect x="203" y="435.0" width="1" height="7.0" fill="#f23645"/><rect x="202" y="436.0" width="3" height="4.7" fill="#f23645"/><rect x="205" y="439.3" width="1" height="3.2" fill="#f23645"/><rect x="204" y="440.8" width="3" height="1.0" fill="#f23645"/><rect x="208" y="436.0" width="1" height="6.0" fill="#089981"/><rect x="207" y="438.0" width="3" height="3.0" fill="#089981"/><rect x="211" y="433.0" width="1" height="9.0" fill="#089981"/><rect x="210" y="434.0" width="3" height="6.7" fill="#089981"/><rect x="213" y="424.0" width="1" height="12.0" fill="#089981"/><rect x="212" y="424.0" width="3" height="11.4" fill="#089981"/><rect x="216" y="426.0" width="1" height="9.0" fill="#f23645"/><rect x="215" y="427.0" width="3" height="7.2" fill="#f23645"/><rect x="219" y="426.0" width="1" height="9.0" fill="#f23645"/><rect x="218" y="427.0" width="3" height="7.2" fill="#f23645"/><rect x="221" y="429.0" width="1" height="13.0" fill="#f23645"/><rect x="220" y="429.6" width="3" height="11.1" fill="#f23645"/><rect x="224" y="436.0" width="1" height="6.0" fill="#f23645"/><rect x="223" y="437.0" width="3" height="4.0" fill="#f23645"/><rect x="227" y="429.0" width="1" height="13.0" fill="#089981"/><rect x="226" y="429.6" width="3" height="11.1" fill="#089981"/><rect x="229" y="417.0" width="1" height="15.0" fill="#089981"/><rect x="228" y="417.3" width="3" height="14.0" fill="#089981"/><rect x="232" y="411.0" width="1" height="10.0" fill="#089981"/><rect x="231" y="412.0" width="3" height="8.0" fill="#089981"/><rect x="235" y="402.0" width="1" height="11.0" fill="#089981"/><rect x="234" y="406.0" width="3" height="6.6" fill="#089981"/><rect x="237" y="396.0" width="1" height="11.0" fill="#089981"/><rect x="236" y="402.4" width="3" height="3.6" fill="#089981"/><rect x="240" y="387.8" width="1" height="14.2" fill="#089981"/><rect x="239" y="391.0" width="3" height="10.8" fill="#089981"/><rect x="243" y="377.0" width="1" height="15.0" fill="#089981"/><rect x="242" y="384.0" width="3" height="7.0" fill="#089981"/><rect x="245" y="376.3" width="1" height="19.7" fill="#f23645"/><rect x="244" y="384.6" width="3" height="10.8" fill="#f23645"/><rect x="248" y="370.0" width="1" height="28.6" fill="#089981"/><rect x="247" y="380.8" width="3" height="15.2" fill="#089981"/><rect x="251" y="351.5" width="1" height="29.5" fill="#089981"/><rect x="250" y="367.4" width="3" height="13.4" fill="#089981"/><rect x="254" y="359.7" width="1" height="16.0" fill="#f23645"/><rect x="253" y="367.4" width="3" height="4.4" fill="#f23645"/><rect x="256" y="366.7" width="1" height="12.8" fill="#089981"/><rect x="255" y="368.7" width="3" height="1.9" fill="#089981"/><rect x="259" y="359.7" width="1" height="10.3" fill="#089981"/><rect x="258" y="362.3" width="3" height="7.0" fill="#089981"/><rect x="262" y="322.0" width="1" height="41.0" fill="#089981"/><rect x="261" y="323.0" width="3" height="39.3" fill="#089981"/><rect x="264" y="306.0" width="1" height="19.0" fill="#089981"/><rect x="263" y="310.5" width="3" height="14.1" fill="#089981"/><rect x="267" y="295.0" width="1" height="31.0" fill="#f23645"/><rect x="266" y="310.5" width="3" height="14.9" fill="#f23645"/><rect x="270" y="311.0" width="1" height="24.0" fill="#089981"/><rect x="269" y="312.0" width="3" height="11.0" fill="#089981"/><rect x="272" y="282.0" width="1" height="41.0" fill="#089981"/><rect x="271" y="289.5" width="3" height="33.3" fill="#089981"/><rect x="275" y="272.0" width="1" height="18.0" fill="#089981"/><rect x="274" y="285.0" width="3" height="4.5" fill="#089981"/><rect x="278" y="284.0" width="1" height="18.0" fill="#f23645"/><rect x="277" y="285.0" width="3" height="16.8" fill="#f23645"/><rect x="280" y="290.0" width="1" height="26.0" fill="#f23645"/><rect x="279" y="295.0" width="3" height="20.8" fill="#f23645"/><rect x="283" y="303.0" width="1" height="13.0" fill="#089981"/><rect x="282" y="303.5" width="3" height="12.3" fill="#089981"/><rect x="286" y="295.0" width="1" height="15.0" fill="#f23645"/><rect x="285" y="300.0" width="3" height="5.0" fill="#f23645"/><rect x="288" y="294.0" width="1" height="16.0" fill="#f23645"/><rect x="287" y="301.0" width="3" height="2.0" fill="#f23645"/><rect x="291" y="288.0" width="1" height="18.0" fill="#089981"/><rect x="290" y="298.0" width="3" height="7.0" fill="#089981"/><rect x="294" y="220.0" width="1" height="81.0" fill="#089981"/><rect x="293" y="221.0" width="3" height="79.0" fill="#089981"/><rect x="296" y="153.0" width="1" height="69.0" fill="#089981"/><rect x="295" y="181.0" width="3" height="40.0" fill="#089981"/><rect x="299" y="137.0" width="1" height="58.0" fill="#f23645"/><rect x="298" y="175.0" width="3" height="16.0" fill="#f23645"/><rect x="302" y="175.0" width="1" height="48.0" fill="#f23645"/><rect x="301" y="192.2" width="3" height="24.4" fill="#f23645"/><rect x="304" y="188.0" width="1" height="47.0" fill="#f23645"/><rect x="303" y="215.0" width="3" height="3.0" fill="#f23645"/><rect x="307" y="200.0" width="1" height="22.0" fill="#089981"/><rect x="306" y="205.0" width="3" height="12.3" fill="#089981"/><rect x="310" y="204.4" width="1" height="32.6" fill="#f23645"/><rect x="309" y="205.8" width="3" height="30.2" fill="#f23645"/><rect x="312" y="208.0" width="1" height="32.0" fill="#089981"/><rect x="311" y="209.4" width="3" height="26.6" fill="#089981"/><rect x="315" y="185.8" width="1" height="30.2" fill="#089981"/><rect x="314" y="203.0" width="3" height="6.4" fill="#089981"/><rect x="318" y="183.0" width="1" height="48.0" fill="#f23645"/><rect x="317" y="204.4" width="3" height="7.9" fill="#f23645"/><rect x="320" y="185.8" width="1" height="29.2" fill="#089981"/><rect x="319" y="195.8" width="3" height="18.6" fill="#089981"/><rect x="323" y="172.0" width="1" height="27.0" fill="#089981"/><rect x="322" y="195.0" width="3" height="3.0" fill="#089981"/><rect x="326" y="193.7" width="1" height="30.3" fill="#f23645"/><rect x="325" y="195.0" width="3" height="17.3" fill="#f23645"/><rect x="328" y="189.4" width="1" height="30.1" fill="#f23645"/><rect x="327" y="212.3" width="3" height="3.6" fill="#f23645"/><rect x="331" y="205.8" width="1" height="24.4" fill="#f23645"/><rect x="330" y="217.3" width="3" height="5.0" fill="#f23645"/><rect x="334" y="220.0" width="1" height="16.0" fill="#f23645"/><rect x="333" y="222.3" width="3" height="7.9" fill="#f23645"/><rect x="336" y="215.0" width="1" height="35.0" fill="#089981"/><rect x="335" y="215.0" width="3" height="15.0" fill="#089981"/><rect x="339" y="204.4" width="1" height="14.6" fill="#089981"/><rect x="338" y="212.3" width="3" height="6.4" fill="#089981"/><rect x="342" y="206.4" width="1" height="11.6" fill="#f23645"/><rect x="341" y="212.0" width="3" height="5.5" fill="#f23645"/><rect x="344" y="208.0" width="1" height="41.0" fill="#f23645"/><rect x="343" y="217.5" width="3" height="31.1" fill="#f23645"/><rect x="347" y="224.7" width="1" height="29.3" fill="#089981"/><rect x="346" y="245.4" width="3" height="3.2" fill="#089981"/><rect x="350" y="233.4" width="1" height="41.4" fill="#f23645"/><rect x="349" y="245.4" width="3" height="1.1" fill="#f23645"/><rect x="352" y="227.9" width="1" height="33.1" fill="#f23645"/><rect x="351" y="246.0" width="3" height="14.5" fill="#f23645"/><rect x="355" y="251.0" width="1" height="33.4" fill="#f23645"/><rect x="354" y="252.5" width="3" height="17.5" fill="#f23645"/><rect x="358" y="254.0" width="1" height="21.6" fill="#089981"/><rect x="357" y="259.0" width="3" height="11.0" fill="#089981"/><rect x="361" y="249.0" width="1" height="13.0" fill="#089981"/><rect x="360" y="250.0" width="3" height="9.0" fill="#089981"/><rect x="363" y="239.0" width="1" height="23.9" fill="#089981"/><rect x="362" y="241.4" width="3" height="13.6" fill="#089981"/><rect x="366" y="206.4" width="1" height="37.6" fill="#089981"/><rect x="365" y="218.3" width="3" height="24.7" fill="#089981"/><rect x="369" y="211.0" width="1" height="37.0" fill="#f23645"/><rect x="368" y="217.5" width="3" height="30.3" fill="#f23645"/><rect x="371" y="247.8" width="1" height="20.2" fill="#f23645"/><rect x="370" y="251.0" width="3" height="16.0" fill="#f23645"/><rect x="374" y="258.0" width="1" height="23.0" fill="#f23645"/><rect x="373" y="262.0" width="3" height="18.4" fill="#f23645"/><rect x="377" y="274.0" width="1" height="13.0" fill="#f23645"/><rect x="376" y="275.0" width="3" height="11.0" fill="#f23645"/><rect x="379" y="269.3" width="1" height="18.3" fill="#089981"/><rect x="378" y="277.0" width="3" height="6.6" fill="#089981"/><rect x="382" y="276.0" width="1" height="11.0" fill="#f23645"/><rect x="381" y="277.2" width="3" height="8.8" fill="#f23645"/><rect x="385" y="282.0" width="1" height="13.0" fill="#f23645"/><rect x="384" y="283.0" width="3" height="11.0" fill="#f23645"/><rect x="387" y="278.5" width="1" height="16.5" fill="#f23645"/><rect x="386" y="286.0" width="3" height="4.0" fill="#f23645"/><rect x="390" y="281.0" width="1" height="15.0" fill="#089981"/><rect x="389" y="287.4" width="3" height="5.1" fill="#089981"/><rect x="393" y="265.7" width="1" height="22.3" fill="#089981"/><rect x="392" y="267.0" width="3" height="20.4" fill="#089981"/><rect x="395" y="237.0" width="1" height="31.0" fill="#089981"/><rect x="394" y="260.0" width="3" height="7.0" fill="#089981"/><rect x="398" y="224.0" width="1" height="36.0" fill="#089981"/><rect x="397" y="229.2" width="3" height="29.8" fill="#089981"/><rect x="401" y="224.9" width="1" height="54.1" fill="#f23645"/><rect x="400" y="229.2" width="3" height="49.3" fill="#f23645"/><rect x="403" y="230.0" width="1" height="56.0" fill="#089981"/><rect x="402" y="232.0" width="3" height="46.5" fill="#089981"/><rect x="406" y="232.0" width="1" height="42.0" fill="#f23645"/><rect x="405" y="236.3" width="3" height="37.1" fill="#f23645"/><rect x="409" y="270.0" width="1" height="20.0" fill="#089981"/><rect x="408" y="272.0" width="3" height="1.4" fill="#089981"/><rect x="411" y="272.0" width="1" height="16.7" fill="#f23645"/><rect x="410" y="273.4" width="3" height="13.4" fill="#f23645"/><rect x="414" y="267.0" width="1" height="23.6" fill="#089981"/><rect x="413" y="273.4" width="3" height="13.4" fill="#089981"/><rect x="417" y="253.0" width="1" height="25.5" fill="#089981"/><rect x="416" y="271.0" width="3" height="2.4" fill="#089981"/><rect x="419" y="263.0" width="1" height="14.8" fill="#089981"/><rect x="418" y="264.0" width="3" height="7.0" fill="#089981"/><rect x="422" y="256.0" width="1" height="18.0" fill="#f23645"/><rect x="421" y="267.0" width="3" height="6.4" fill="#f23645"/><rect x="425" y="263.0" width="1" height="20.0" fill="#f23645"/><rect x="424" y="272.0" width="3" height="10.3" fill="#f23645"/><rect x="427" y="276.0" width="1" height="14.6" fill="#f23645"/><rect x="426" y="277.2" width="3" height="6.4" fill="#f23645"/><rect x="430" y="277.0" width="1" height="13.0" fill="#089981"/><rect x="429" y="278.5" width="3" height="7.5" fill="#089981"/><rect x="433" y="263.7" width="1" height="18.3" fill="#089981"/><rect x="432" y="268.5" width="3" height="12.5" fill="#089981"/><rect x="435" y="263.7" width="1" height="10.5" fill="#f23645"/><rect x="434" y="268.5" width="3" height="3.5" fill="#f23645"/><rect x="438" y="259.0" width="1" height="19.0" fill="#089981"/><rect x="437" y="267.5" width="3" height="7.5" fill="#089981"/><rect x="441" y="252.0" width="1" height="24.0" fill="#f23645"/><rect x="440" y="266.0" width="3" height="9.0" fill="#f23645"/><rect x="443" y="266.0" width="1" height="13.0" fill="#089981"/><rect x="442" y="267.0" width="3" height="8.0" fill="#089981"/><rect x="446" y="232.0" width="1" height="30.0" fill="#089981"/><rect x="445" y="233.0" width="3" height="28.0" fill="#089981"/><rect x="449" y="189.0" width="1" height="45.0" fill="#089981"/><rect x="448" y="204.4" width="3" height="28.6" fill="#089981"/><rect x="451" y="200.0" width="1" height="22.0" fill="#f23645"/><rect x="450" y="201.5" width="3" height="20.1" fill="#f23645"/><rect x="454" y="194.9" width="1" height="26.7" fill="#089981"/><rect x="453" y="204.4" width="3" height="15.3" fill="#089981"/><rect x="457" y="194.0" width="1" height="20.0" fill="#089981"/><rect x="456" y="201.5" width="3" height="3.5" fill="#089981"/><rect x="459" y="196.8" width="1" height="11.2" fill="#f23645"/><rect x="458" y="201.5" width="3" height="5.8" fill="#f23645"/><rect x="462" y="185.3" width="1" height="22.7" fill="#089981"/><rect x="461" y="201.5" width="3" height="5.8" fill="#089981"/><rect x="465" y="191.0" width="1" height="23.0" fill="#f23645"/><rect x="464" y="201.5" width="3" height="6.5" fill="#f23645"/><rect x="468" y="184.0" width="1" height="25.0" fill="#089981"/><rect x="467" y="185.3" width="3" height="22.7" fill="#089981"/><rect x="470" y="109.8" width="1" height="97.2" fill="#089981"/><rect x="469" y="124.0" width="3" height="61.3" fill="#089981"/><rect x="473" y="118.8" width="1" height="31.2" fill="#f23645"/><rect x="472" y="124.3" width="3" height="24.7" fill="#f23645"/><rect x="476" y="148.0" width="1" height="32.0" fill="#f23645"/><rect x="475" y="149.0" width="3" height="29.6" fill="#f23645"/><rect x="478" y="170.0" width="1" height="48.7" fill="#f23645"/><rect x="477" y="178.6" width="3" height="21.4" fill="#f23645"/><rect x="481" y="181.0" width="1" height="22.0" fill="#089981"/><rect x="480" y="195.0" width="3" height="3.7" fill="#089981"/><rect x="484" y="193.0" width="1" height="28.0" fill="#f23645"/><rect x="483" y="195.0" width="3" height="25.0" fill="#f23645"/><rect x="486" y="198.0" width="1" height="24.0" fill="#089981"/><rect x="485" y="202.0" width="3" height="19.6" fill="#089981"/><rect x="489" y="195.8" width="1" height="25.2" fill="#f23645"/><rect x="488" y="203.0" width="3" height="17.0" fill="#f23645"/><rect x="492" y="207.0" width="1" height="22.0" fill="#089981"/><rect x="491" y="207.0" width="3" height="13.0" fill="#089981"/><rect x="494" y="211.5" width="1" height="18.0" fill="#f23645"/><rect x="493" y="213.0" width="3" height="8.6" fill="#f23645"/><rect x="497" y="215.0" width="1" height="15.0" fill="#089981"/><rect x="496" y="216.5" width="3" height="5.1" fill="#089981"/><rect x="500" y="213.0" width="1" height="15.7" fill="#089981"/><rect x="499" y="216.6" width="3" height="3.4" fill="#089981"/><rect x="502" y="210.0" width="1" height="24.0" fill="#f23645"/><rect x="501" y="218.0" width="3" height="15.0" fill="#f23645"/><rect x="505" y="218.7" width="1" height="22.3" fill="#f23645"/><rect x="504" y="223.0" width="3" height="17.0" fill="#f23645"/><rect x="508" y="231.0" width="1" height="11.0" fill="#f23645"/><rect x="507" y="233.0" width="3" height="7.0" fill="#f23645"/><rect x="510" y="237.0" width="1" height="24.0" fill="#f23645"/><rect x="509" y="238.8" width="3" height="21.2" fill="#f23645"/><rect x="513" y="241.0" width="1" height="15.7" fill="#089981"/><rect x="512" y="242.0" width="3" height="12.5" fill="#089981"/><rect x="516" y="222.0" width="1" height="26.0" fill="#089981"/><rect x="515" y="223.0" width="3" height="24.4" fill="#089981"/><rect x="518" y="185.7" width="1" height="38.3" fill="#089981"/><rect x="517" y="210.6" width="3" height="12.8" fill="#089981"/><rect x="521" y="196.0" width="1" height="15.0" fill="#089981"/><rect x="520" y="196.6" width="3" height="14.0" fill="#089981"/><rect x="524" y="195.3" width="1" height="20.7" fill="#f23645"/><rect x="523" y="196.6" width="3" height="19.1" fill="#f23645"/><rect x="526" y="204.0" width="1" height="19.4" fill="#089981"/><rect x="525" y="211.0" width="3" height="4.0" fill="#089981"/><rect x="529" y="202.3" width="1" height="18.7" fill="#f23645"/><rect x="528" y="210.0" width="3" height="10.8" fill="#f23645"/><rect x="532" y="209.0" width="1" height="12.0" fill="#089981"/><rect x="531" y="215.0" width="3" height="5.0" fill="#089981"/><rect x="534" y="207.4" width="1" height="34.5" fill="#f23645"/><rect x="533" y="214.4" width="3" height="3.9" fill="#f23645"/><rect x="537" y="213.0" width="1" height="12.3" fill="#089981"/><rect x="536" y="216.0" width="3" height="1.5" fill="#089981"/><rect x="540" y="207.4" width="1" height="9.6" fill="#089981"/><rect x="539" y="212.5" width="3" height="3.2" fill="#089981"/><rect x="542" y="200.4" width="1" height="21.1" fill="#089981"/><rect x="541" y="210.6" width="3" height="1.9" fill="#089981"/><rect x="545" y="200.4" width="1" height="12.6" fill="#f23645"/><rect x="544" y="210.6" width="3" height="1.9" fill="#f23645"/><rect x="548" y="207.4" width="1" height="15.6" fill="#f23645"/><rect x="547" y="210.6" width="3" height="11.4" fill="#f23645"/><rect x="550" y="210.0" width="1" height="13.0" fill="#f23645"/><rect x="549" y="211.5" width="3" height="10.5" fill="#f23645"/><rect x="553" y="222.0" width="1" height="9.0" fill="#f23645"/><rect x="552" y="224.0" width="3" height="5.7" fill="#f23645"/><rect x="556" y="221.0" width="1" height="14.0" fill="#089981"/><rect x="555" y="222.0" width="3" height="7.7" fill="#089981"/><rect x="558" y="212.5" width="1" height="29.4" fill="#f23645"/><rect x="557" y="222.0" width="3" height="7.0" fill="#f23645"/><rect x="561" y="215.4" width="1" height="22.6" fill="#089981"/><rect x="560" y="226.8" width="3" height="10.6" fill="#089981"/><rect x="564" y="210.6" width="1" height="16.4" fill="#089981"/><rect x="563" y="215.4" width="3" height="11.4" fill="#089981"/><rect x="566" y="191.5" width="1" height="28.5" fill="#089981"/><rect x="565" y="212.0" width="3" height="3.4" fill="#089981"/><rect x="569" y="206.8" width="1" height="15.2" fill="#f23645"/><rect x="568" y="208.7" width="3" height="6.3" fill="#f23645"/><rect x="572" y="212.0" width="1" height="13.0" fill="#f23645"/><rect x="571" y="215.0" width="3" height="9.0" fill="#f23645"/><rect x="575" y="218.0" width="1" height="21.0" fill="#f23645"/><rect x="574" y="221.7" width="3" height="5.6" fill="#f23645"/><rect x="577" y="229.0" width="1" height="13.0" fill="#f23645"/><rect x="576" y="232.8" width="3" height="6.7" fill="#f23645"/><rect x="580" y="231.0" width="1" height="14.0" fill="#f23645"/><rect x="579" y="240.0" width="3" height="2.3" fill="#f23645"/><rect x="583" y="240.0" width="1" height="30.7" fill="#f23645"/><rect x="582" y="241.8" width="3" height="12.2" fill="#f23645"/><rect x="585" y="252.3" width="1" height="12.7" fill="#f23645"/><rect x="584" y="254.0" width="3" height="7.8" fill="#f23645"/><rect x="588" y="251.0" width="1" height="14.7" fill="#089981"/><rect x="587" y="255.7" width="3" height="6.1" fill="#089981"/><rect x="591" y="254.0" width="1" height="17.5" fill="#f23645"/><rect x="590" y="255.0" width="3" height="15.7" fill="#f23645"/><rect x="593" y="265.0" width="1" height="15.5" fill="#f23645"/><rect x="592" y="266.8" width="3" height="12.9" fill="#f23645"/><rect x="596" y="278.0" width="1" height="31.0" fill="#f23645"/><rect x="595" y="279.4" width="3" height="28.9" fill="#f23645"/><rect x="599" y="305.0" width="1" height="27.0" fill="#f23645"/><rect x="598" y="306.5" width="3" height="24.5" fill="#f23645"/><rect x="601" y="321.0" width="1" height="14.0" fill="#f23645"/><rect x="600" y="329.0" width="3" height="3.0" fill="#f23645"/><rect x="604" y="329.0" width="1" height="17.8" fill="#f23645"/><rect x="603" y="331.0" width="3" height="14.0" fill="#f23645"/><rect x="607" y="327.0" width="1" height="20.0" fill="#089981"/><rect x="606" y="328.4" width="3" height="16.6" fill="#089981"/><rect x="609" y="312.0" width="1" height="18.0" fill="#089981"/><rect x="608" y="313.6" width="3" height="14.0" fill="#089981"/><rect x="612" y="313.6" width="1" height="10.4" fill="#f23645"/><rect x="611" y="315.0" width="3" height="7.3" fill="#f23645"/><rect x="615" y="317.0" width="1" height="8.0" fill="#f23645"/><rect x="614" y="318.0" width="3" height="5.0" fill="#f23645"/><rect x="617" y="320.0" width="1" height="9.0" fill="#f23645"/><rect x="616" y="321.0" width="3" height="6.6" fill="#f23645"/><rect x="620" y="323.0" width="1" height="7.0" fill="#089981"/><rect x="619" y="325.0" width="3" height="2.0" fill="#089981"/><rect x="623" y="324.0" width="1" height="12.3" fill="#f23645"/><rect x="622" y="325.8" width="3" height="5.2" fill="#f23645"/><rect x="625" y="321.0" width="1" height="12.0" fill="#089981"/><rect x="624" y="323.0" width="3" height="7.0" fill="#089981"/><rect x="628" y="309.0" width="1" height="16.0" fill="#089981"/><rect x="627" y="314.4" width="3" height="9.6" fill="#089981"/><rect x="631" y="306.5" width="1" height="13.5" fill="#f23645"/><rect x="630" y="314.0" width="3" height="4.8" fill="#f23645"/><rect x="633" y="313.0" width="1" height="6.0" fill="#089981"/><rect x="632" y="315.0" width="3" height="3.0" fill="#089981"/><rect x="636" y="313.0" width="1" height="10.0" fill="#f23645"/><rect x="635" y="314.4" width="3" height="7.9" fill="#f23645"/><rect x="639" y="317.0" width="1" height="8.0" fill="#089981"/><rect x="638" y="318.8" width="3" height="3.2" fill="#089981"/><rect x="641" y="315.0" width="1" height="7.0" fill="#089981"/><rect x="640" y="317.0" width="3" height="2.0" fill="#089981"/><rect x="644" y="305.0" width="1" height="13.0" fill="#089981"/><rect x="643" y="306.5" width="3" height="10.5" fill="#089981"/><rect x="647" y="282.0" width="1" height="27.0" fill="#089981"/><rect x="646" y="283.8" width="3" height="24.2" fill="#089981"/><rect x="649" y="262.0" width="1" height="28.0" fill="#089981"/><rect x="648" y="277.0" width="3" height="7.0" fill="#089981"/><rect x="652" y="262.0" width="1" height="17.0" fill="#089981"/><rect x="651" y="271.0" width="3" height="6.0" fill="#089981"/><rect x="655" y="245.0" width="1" height="28.0" fill="#089981"/><rect x="654" y="247.3" width="3" height="23.7" fill="#089981"/><rect x="657" y="246.4" width="1" height="7.6" fill="#f23645"/><rect x="656" y="247.3" width="3" height="4.7" fill="#f23645"/><rect x="660" y="249.0" width="1" height="27.0" fill="#f23645"/><rect x="659" y="250.8" width="3" height="24.5" fill="#f23645"/><rect x="663" y="264.8" width="1" height="14.9" fill="#089981"/><rect x="662" y="272.6" width="3" height="2.4" fill="#089981"/><rect x="665" y="267.4" width="1" height="8.6" fill="#089981"/><rect x="664" y="272.0" width="3" height="1.0" fill="#089981"/><rect x="668" y="268.3" width="1" height="12.7" fill="#f23645"/><rect x="667" y="272.6" width="3" height="7.9" fill="#f23645"/><rect x="671" y="276.0" width="1" height="9.8" fill="#089981"/><rect x="670" y="277.0" width="3" height="3.0" fill="#089981"/><rect x="673" y="278.0" width="1" height="19.0" fill="#f23645"/><rect x="672" y="278.8" width="3" height="17.5" fill="#f23645"/><rect x="676" y="295.0" width="1" height="16.0" fill="#f23645"/><rect x="675" y="296.3" width="3" height="14.0" fill="#f23645"/><rect x="679" y="303.3" width="1" height="7.7" fill="#089981"/><rect x="678" y="308.5" width="3" height="1.5" fill="#089981"/><rect x="682" y="306.0" width="1" height="8.0" fill="#f23645"/><rect x="681" y="307.7" width="3" height="5.3" fill="#f23645"/><rect x="684" y="308.0" width="1" height="8.0" fill="#f23645"/><rect x="683" y="309.4" width="3" height="6.2" fill="#f23645"/><rect x="687" y="311.0" width="1" height="7.0" fill="#f23645"/><rect x="686" y="312.0" width="3" height="5.3" fill="#f23645"/><rect x="690" y="303.3" width="1" height="18.7" fill="#f23645"/><rect x="689" y="313.8" width="3" height="7.0" fill="#f23645"/><rect x="692" y="318.0" width="1" height="22.0" fill="#f23645"/><rect x="691" y="319.0" width="3" height="14.0" fill="#f23645"/><rect x="695" y="326.0" width="1" height="16.0" fill="#089981"/><rect x="694" y="327.4" width="3" height="5.6" fill="#089981"/><rect x="698" y="319.0" width="1" height="11.0" fill="#089981"/><rect x="697" y="320.0" width="3" height="7.4" fill="#089981"/><rect x="700" y="317.0" width="1" height="10.0" fill="#f23645"/><rect x="699" y="318.6" width="3" height="7.4" fill="#f23645"/><rect x="703" y="309.4" width="1" height="16.6" fill="#089981"/><rect x="702" y="317.2" width="3" height="7.8" fill="#089981"/><rect x="706" y="314.2" width="1" height="20.8" fill="#f23645"/><rect x="705" y="317.2" width="3" height="17.3" fill="#f23645"/><rect x="708" y="328.0" width="1" height="9.0" fill="#f23645"/><rect x="707" y="334.5" width="3" height="1.8" fill="#f23645"/><rect x="711" y="314.0" width="1" height="23.0" fill="#089981"/><rect x="710" y="314.8" width="3" height="21.5" fill="#089981"/><rect x="714" y="293.3" width="1" height="22.2" fill="#089981"/><rect x="713" y="301.0" width="3" height="13.8" fill="#089981"/><rect x="716" y="300.0" width="1" height="12.0" fill="#f23645"/><rect x="715" y="301.7" width="3" height="9.5" fill="#f23645"/><rect x="719" y="307.0" width="1" height="8.0" fill="#f23645"/><rect x="718" y="309.0" width="3" height="5.0" fill="#f23645"/><rect x="722" y="311.0" width="1" height="10.4" fill="#f23645"/><rect x="721" y="312.4" width="3" height="4.2" fill="#f23645"/><rect x="724" y="310.0" width="1" height="7.0" fill="#089981"/><rect x="723" y="311.2" width="3" height="5.4" fill="#089981"/><rect x="727" y="306.4" width="1" height="9.6" fill="#f23645"/><rect x="726" y="312.4" width="3" height="2.4" fill="#f23645"/><rect x="730" y="313.0" width="1" height="9.0" fill="#f23645"/><rect x="729" y="314.2" width="3" height="7.2" fill="#f23645"/><rect x="732" y="316.0" width="1" height="9.5" fill="#089981"/><rect x="731" y="317.8" width="3" height="3.2" fill="#089981"/><rect x="735" y="313.0" width="1" height="9.6" fill="#089981"/><rect x="734" y="314.2" width="3" height="3.8" fill="#089981"/><rect x="738" y="299.3" width="1" height="15.7" fill="#089981"/><rect x="737" y="304.0" width="3" height="10.8" fill="#089981"/><rect x="740" y="290.3" width="1" height="18.7" fill="#f23645"/><rect x="739" y="304.0" width="3" height="4.2" fill="#f23645"/><rect x="743" y="301.0" width="1" height="9.6" fill="#089981"/><rect x="742" y="305.8" width="3" height="2.4" fill="#089981"/><rect x="746" y="305.0" width="1" height="9.8" fill="#089981"/><rect x="745" y="307.0" width="3" height="1.8" fill="#089981"/><rect x="748" y="291.5" width="1" height="18.5" fill="#089981"/><rect x="747" y="297.5" width="3" height="11.9" fill="#089981"/><rect x="751" y="290.3" width="1" height="10.7" fill="#f23645"/><rect x="750" y="296.3" width="3" height="3.6" fill="#f23645"/><rect x="754" y="283.0" width="1" height="18.0" fill="#089981"/><rect x="753" y="284.3" width="3" height="15.6" fill="#089981"/><rect x="756" y="260.0" width="1" height="30.0" fill="#089981"/><rect x="755" y="262.0" width="3" height="27.0" fill="#089981"/><rect x="759" y="235.8" width="1" height="34.2" fill="#f23645"/><rect x="758" y="253.5" width="3" height="3.3" fill="#f23645"/><rect x="762" y="246.0" width="1" height="13.6" fill="#089981"/><rect x="761" y="249.4" width="3" height="7.4" fill="#089981"/><rect x="764" y="233.8" width="1" height="16.2" fill="#089981"/><rect x="763" y="234.5" width="3" height="14.9" fill="#089981"/><rect x="767" y="233.0" width="1" height="34.7" fill="#f23645"/><rect x="766" y="237.9" width="3" height="25.1" fill="#f23645"/><rect x="770" y="250.0" width="1" height="17.7" fill="#089981"/><rect x="769" y="259.0" width="3" height="4.0" fill="#089981"/><rect x="772" y="248.0" width="1" height="16.0" fill="#089981"/><rect x="771" y="252.0" width="3" height="10.0" fill="#089981"/><rect x="775" y="252.0" width="1" height="11.6" fill="#f23645"/><rect x="774" y="252.7" width="3" height="5.5" fill="#f23645"/><rect x="778" y="255.5" width="1" height="5.5" fill="#089981"/><rect x="777" y="256.8" width="3" height="1.4" fill="#089981"/><rect x="780" y="255.5" width="1" height="12.2" fill="#f23645"/><rect x="779" y="256.8" width="3" height="7.5" fill="#f23645"/><rect x="783" y="246.0" width="1" height="18.0" fill="#089981"/><rect x="782" y="247.4" width="3" height="16.2" fill="#089981"/><rect x="786" y="245.3" width="1" height="24.7" fill="#f23645"/><rect x="785" y="247.4" width="3" height="22.3" fill="#f23645"/><rect x="789" y="266.0" width="1" height="18.0" fill="#f23645"/><rect x="788" y="267.0" width="3" height="14.0" fill="#f23645"/><rect x="791" y="279.0" width="1" height="10.0" fill="#f23645"/><rect x="790" y="280.6" width="3" height="8.1" fill="#f23645"/><rect x="794" y="271.0" width="1" height="20.4" fill="#089981"/><rect x="793" y="286.0" width="3" height="2.7" fill="#089981"/><rect x="797" y="285.0" width="1" height="9.0" fill="#f23645"/><rect x="796" y="286.0" width="3" height="6.7" fill="#f23645"/><rect x="799" y="282.6" width="1" height="14.9" fill="#f23645"/><rect x="798" y="291.0" width="3" height="5.8" fill="#f23645"/><rect x="802" y="282.6" width="1" height="21.4" fill="#f23645"/><rect x="801" y="295.0" width="3" height="8.6" fill="#f23645"/><rect x="805" y="301.0" width="1" height="8.0" fill="#f23645"/><rect x="804" y="302.2" width="3" height="5.4" fill="#f23645"/><rect x="807" y="303.4" width="1" height="41.3" fill="#f23645"/><rect x="806" y="309.0" width="3" height="23.4" fill="#f23645"/><rect x="810" y="326.3" width="1" height="11.7" fill="#f23645"/><rect x="809" y="330.0" width="3" height="4.0" fill="#f23645"/><rect x="813" y="326.8" width="1" height="16.7" fill="#f23645"/><rect x="812" y="332.0" width="3" height="3.7" fill="#f23645"/><rect x="815" y="325.0" width="1" height="17.4" fill="#089981"/><rect x="814" y="328.5" width="3" height="7.2" fill="#089981"/><rect x="818" y="320.0" width="1" height="11.0" fill="#089981"/><rect x="817" y="324.0" width="3" height="5.0" fill="#089981"/><rect x="821" y="317.9" width="1" height="11.1" fill="#089981"/><rect x="820" y="319.2" width="3" height="4.8" fill="#089981"/><rect x="823" y="317.9" width="1" height="10.1" fill="#089981"/><rect x="822" y="318.0" width="3" height="4.0" fill="#089981"/><rect x="826" y="316.2" width="1" height="8.4" fill="#089981"/><rect x="825" y="318.0" width="3" height="1.0" fill="#089981"/><rect x="829" y="318.5" width="1" height="7.5" fill="#f23645"/><rect x="828" y="319.5" width="3" height="2.5" fill="#f23645"/><rect x="831" y="318.0" width="1" height="11.0" fill="#f23645"/><rect x="830" y="320.5" width="3" height="5.0" fill="#f23645"/><rect x="834" y="323.5" width="1" height="8.9" fill="#f23645"/><rect x="833" y="325.0" width="3" height="4.6" fill="#f23645"/><rect x="837" y="324.3" width="1" height="9.2" fill="#089981"/><rect x="836" y="326.0" width="3" height="2.5" fill="#089981"/><rect x="839" y="323.5" width="1" height="6.1" fill="#089981"/><rect x="838" y="324.6" width="3" height="1.9" fill="#089981"/><rect x="842" y="320.0" width="1" height="7.8" fill="#f23645"/><rect x="841" y="325.0" width="3" height="2.0" fill="#f23645"/><line x1="10" y1="327.5" x2="1160" y2="327.5" stroke="#f23645" stroke-width="1" stroke-dasharray="1 2"/><circle cx="842.4" cy="428.2" r="9.2" fill="#ffffff" stroke="#9b3fcb" stroke-width="1.7"/><polyline points="845.4,423.6 838.6,428.5 846.3,428.3 839.5,433.1" fill="none" stroke="#9b3fcb" stroke-width="1.7" stroke-linecap="round" stroke-linejoin="round"/></g><g clip-path="url(#cr)"><rect x="10" y="476.3" width="1207" height="61.8" fill="rgba(126,87,194,0.1)"/><line x1="10" y1="476.5" x2="1217" y2="476.5" stroke="#787b86" stroke-width="1" stroke-dasharray="5 6"/><line x1="10" y1="507.5" x2="1217" y2="507.5" stroke="rgba(120,123,134,0.5)" stroke-width="1" stroke-dasharray="5 6"/><line x1="10" y1="537.5" x2="1217" y2="537.5" stroke="#787b86" stroke-width="1" stroke-dasharray="5 6"/><clipPath id="cob"><rect x="10" y="442" width="1207" height="34.1"/></clipPath><clipPath id="cos"><rect x="10" y="538.1" width="1207" height="30"/></clipPath><polygon points="10.6,482.8 13.2,481.5 15.9,482.2 18.6,482.2 21.3,485.3 24.0,477.1 26.6,466.1 29.3,464.0 32.0,473.4 34.7,470.3 37.3,461.6 40.0,467.6 42.7,486.0 45.4,481.9 48.0,486.1 50.7,485.0 53.4,486.1 56.1,492.7 58.7,497.0 61.4,498.4 64.1,495.3 66.8,501.8 69.4,499.1 72.1,489.4 74.8,488.0 77.5,508.6 80.1,502.7 82.8,504.8 85.5,507.0 88.2,504.8 90.8,510.4 93.5,508.6 96.2,504.1 98.9,510.0 101.5,506.8 104.2,513.0 106.9,506.0 109.6,514.5 112.2,507.2 114.9,496.8 117.6,498.1 120.2,500.5 122.9,495.4 125.6,500.4 128.3,506.2 131.0,509.5 133.6,503.4 136.3,513.3 139.0,507.2 141.7,506.7 144.3,499.7 147.0,496.4 149.7,503.6 152.4,512.3 155.0,520.4 157.7,516.3 160.4,520.9 163.1,524.0 165.7,526.5 168.4,525.7 171.1,526.8 173.8,529.8 176.4,530.0 179.1,527.5 181.8,521.7 184.5,515.4 187.1,525.0 189.8,525.0 192.5,517.4 195.2,517.8 197.8,511.7 200.5,511.2 203.2,522.3 205.9,522.6 208.5,517.3 211.2,510.6 213.9,496.7 216.6,510.7 219.2,510.7 221.9,518.4 224.6,518.7 227.2,503.2 229.9,490.8 232.6,486.4 235.3,481.8 238.0,479.2 240.6,472.0 243.3,468.3 246.0,483.8 248.7,475.4 251.3,469.4 254.0,474.6 256.7,473.1 259.4,470.1 262.0,457.6 264.7,455.0 267.4,469.2 270.1,465.4 272.7,460.2 275.4,459.2 278.1,473.1 280.8,483.2 283.4,479.0 286.1,480.0 288.8,479.3 291.5,477.5 294.1,459.2 296.8,454.1 299.5,460.0 302.2,473.8 304.8,474.6 307.5,471.8 310.2,487.1 312.9,480.7 315.5,479.3 318.2,483.7 320.9,479.7 323.6,479.5 326.2,488.2 328.9,490.0 331.6,493.1 334.3,497.1 336.9,491.6 339.6,490.6 342.3,493.5 345.0,508.6 347.6,507.2 350.3,507.7 353.0,514.1 355.7,518.1 358.3,512.2 361.0,507.7 363.7,503.5 366.4,493.5 369.0,507.8 371.7,515.4 374.4,520.2 377.1,522.1 379.7,517.5 382.4,520.9 385.1,523.9 387.8,521.6 390.4,520.1 393.1,508.9 395.8,505.4 398.5,492.4 401.1,513.5 403.8,497.7 406.5,511.0 409.2,510.6 411.8,514.9 414.5,510.3 417.2,509.4 419.9,506.9 422.5,510.3 425.2,513.5 427.9,514.0 430.6,511.7 433.2,507.2 435.9,508.7 438.6,506.6 441.2,510.2 443.9,506.1 446.6,491.7 449.3,482.7 452.0,491.5 454.6,486.3 457.3,485.4 460.0,488.5 462.7,486.6 465.3,490.4 468.0,482.7 470.7,468.6 473.4,480.8 476.0,493.1 478.7,500.8 481.4,499.3 484.1,507.9 486.7,502.3 489.4,508.2 492.1,504.0 494.8,508.9 497.4,507.1 500.1,507.2 502.8,513.1 505.5,515.5 508.1,515.5 510.8,522.5 513.5,514.2 516.2,506.5 518.8,501.8 521.5,496.8 524.2,504.9 526.9,503.1 529.5,507.2 532.2,504.8 534.9,506.3 537.5,505.3 540.2,503.6 542.9,502.6 545.6,503.7 548.2,509.3 550.9,509.3 553.6,513.8 556.3,508.7 559.0,513.0 561.6,511.4 564.3,503.7 567.0,501.5 569.7,503.8 572.3,510.3 575.0,512.6 577.7,520.5 580.4,522.2 583.0,528.9 585.7,532.8 588.4,527.0 591.0,534.5 593.7,538.3 596.4,548.0 599.1,553.5 601.8,553.8 604.4,556.6 607.1,542.5 609.8,531.6 612.5,534.6 615.1,534.9 617.8,536.6 620.5,534.4 623.1,536.8 625.8,529.9 628.5,523.0 631.2,525.3 633.9,522.1 636.5,526.1 639.2,523.0 641.9,521.4 644.5,512.4 647.2,497.0 649.9,493.2 652.6,489.9 655.2,479.2 657.9,483.1 660.6,499.7 663.3,498.3 666.0,498.0 668.6,503.9 671.3,501.7 674.0,514.0 676.6,521.3 679.3,520.0 682.0,522.4 684.7,523.7 687.4,524.7 690.0,526.7 692.7,533.1 695.4,527.7 698.0,521.0 700.7,524.6 703.4,516.8 706.1,526.8 708.8,527.8 711.4,510.8 714.1,502.1 716.8,508.6 719.5,510.3 722.1,512.0 724.8,508.1 727.5,510.6 730.1,515.1 732.8,512.1 735.5,509.2 738.2,501.4 740.9,504.9 743.5,503.0 746.2,504.1 748.9,496.5 751.5,498.9 754.2,487.9 756.9,476.5 759.6,474.3 762.2,471.3 764.9,466.0 767.6,490.7 770.3,488.8 773.0,485.6 775.6,490.5 778.3,489.8 781.0,495.8 783.6,487.0 786.3,502.6 789.0,509.2 791.7,513.4 794.4,511.6 797.0,515.4 799.7,517.7 802.4,521.5 805.0,523.6 807.7,535.0 810.4,535.6 813.1,536.3 815.8,529.7 818.4,525.8 821.1,521.6 823.8,520.5 826.5,520.5 829.1,523.3 831.8,525.6 834.5,528.4 837.1,524.2 839.8,522.6 842.5,524.5 842.5,476.1 10.6,476.1" fill="url(#gob)" clip-path="url(#cob)"/><polygon points="10.6,482.8 13.2,481.5 15.9,482.2 18.6,482.2 21.3,485.3 24.0,477.1 26.6,466.1 29.3,464.0 32.0,473.4 34.7,470.3 37.3,461.6 40.0,467.6 42.7,486.0 45.4,481.9 48.0,486.1 50.7,485.0 53.4,486.1 56.1,492.7 58.7,497.0 61.4,498.4 64.1,495.3 66.8,501.8 69.4,499.1 72.1,489.4 74.8,488.0 77.5,508.6 80.1,502.7 82.8,504.8 85.5,507.0 88.2,504.8 90.8,510.4 93.5,508.6 96.2,504.1 98.9,510.0 101.5,506.8 104.2,513.0 106.9,506.0 109.6,514.5 112.2,507.2 114.9,496.8 117.6,498.1 120.2,500.5 122.9,495.4 125.6,500.4 128.3,506.2 131.0,509.5 133.6,503.4 136.3,513.3 139.0,507.2 141.7,506.7 144.3,499.7 147.0,496.4 149.7,503.6 152.4,512.3 155.0,520.4 157.7,516.3 160.4,520.9 163.1,524.0 165.7,526.5 168.4,525.7 171.1,526.8 173.8,529.8 176.4,530.0 179.1,527.5 181.8,521.7 184.5,515.4 187.1,525.0 189.8,525.0 192.5,517.4 195.2,517.8 197.8,511.7 200.5,511.2 203.2,522.3 205.9,522.6 208.5,517.3 211.2,510.6 213.9,496.7 216.6,510.7 219.2,510.7 221.9,518.4 224.6,518.7 227.2,503.2 229.9,490.8 232.6,486.4 235.3,481.8 238.0,479.2 240.6,472.0 243.3,468.3 246.0,483.8 248.7,475.4 251.3,469.4 254.0,474.6 256.7,473.1 259.4,470.1 262.0,457.6 264.7,455.0 267.4,469.2 270.1,465.4 272.7,460.2 275.4,459.2 278.1,473.1 280.8,483.2 283.4,479.0 286.1,480.0 288.8,479.3 291.5,477.5 294.1,459.2 296.8,454.1 299.5,460.0 302.2,473.8 304.8,474.6 307.5,471.8 310.2,487.1 312.9,480.7 315.5,479.3 318.2,483.7 320.9,479.7 323.6,479.5 326.2,488.2 328.9,490.0 331.6,493.1 334.3,497.1 336.9,491.6 339.6,490.6 342.3,493.5 345.0,508.6 347.6,507.2 350.3,507.7 353.0,514.1 355.7,518.1 358.3,512.2 361.0,507.7 363.7,503.5 366.4,493.5 369.0,507.8 371.7,515.4 374.4,520.2 377.1,522.1 379.7,517.5 382.4,520.9 385.1,523.9 387.8,521.6 390.4,520.1 393.1,508.9 395.8,505.4 398.5,492.4 401.1,513.5 403.8,497.7 406.5,511.0 409.2,510.6 411.8,514.9 414.5,510.3 417.2,509.4 419.9,506.9 422.5,510.3 425.2,513.5 427.9,514.0 430.6,511.7 433.2,507.2 435.9,508.7 438.6,506.6 441.2,510.2 443.9,506.1 446.6,491.7 449.3,482.7 452.0,491.5 454.6,486.3 457.3,485.4 460.0,488.5 462.7,486.6 465.3,490.4 468.0,482.7 470.7,468.6 473.4,480.8 476.0,493.1 478.7,500.8 481.4,499.3 484.1,507.9 486.7,502.3 489.4,508.2 492.1,504.0 494.8,508.9 497.4,507.1 500.1,507.2 502.8,513.1 505.5,515.5 508.1,515.5 510.8,522.5 513.5,514.2 516.2,506.5 518.8,501.8 521.5,496.8 524.2,504.9 526.9,503.1 529.5,507.2 532.2,504.8 534.9,506.3 537.5,505.3 540.2,503.6 542.9,502.6 545.6,503.7 548.2,509.3 550.9,509.3 553.6,513.8 556.3,508.7 559.0,513.0 561.6,511.4 564.3,503.7 567.0,501.5 569.7,503.8 572.3,510.3 575.0,512.6 577.7,520.5 580.4,522.2 583.0,528.9 585.7,532.8 588.4,527.0 591.0,534.5 593.7,538.3 596.4,548.0 599.1,553.5 601.8,553.8 604.4,556.6 607.1,542.5 609.8,531.6 612.5,534.6 615.1,534.9 617.8,536.6 620.5,534.4 623.1,536.8 625.8,529.9 628.5,523.0 631.2,525.3 633.9,522.1 636.5,526.1 639.2,523.0 641.9,521.4 644.5,512.4 647.2,497.0 649.9,493.2 652.6,489.9 655.2,479.2 657.9,483.1 660.6,499.7 663.3,498.3 666.0,498.0 668.6,503.9 671.3,501.7 674.0,514.0 676.6,521.3 679.3,520.0 682.0,522.4 684.7,523.7 687.4,524.7 690.0,526.7 692.7,533.1 695.4,527.7 698.0,521.0 700.7,524.6 703.4,516.8 706.1,526.8 708.8,527.8 711.4,510.8 714.1,502.1 716.8,508.6 719.5,510.3 722.1,512.0 724.8,508.1 727.5,510.6 730.1,515.1 732.8,512.1 735.5,509.2 738.2,501.4 740.9,504.9 743.5,503.0 746.2,504.1 748.9,496.5 751.5,498.9 754.2,487.9 756.9,476.5 759.6,474.3 762.2,471.3 764.9,466.0 767.6,490.7 770.3,488.8 773.0,485.6 775.6,490.5 778.3,489.8 781.0,495.8 783.6,487.0 786.3,502.6 789.0,509.2 791.7,513.4 794.4,511.6 797.0,515.4 799.7,517.7 802.4,521.5 805.0,523.6 807.7,535.0 810.4,535.6 813.1,536.3 815.8,529.7 818.4,525.8 821.1,521.6 823.8,520.5 826.5,520.5 829.1,523.3 831.8,525.6 834.5,528.4 837.1,524.2 839.8,522.6 842.5,524.5 842.5,538.1 10.6,538.1" fill="url(#gos)" clip-path="url(#cos)"/><polyline points="10.6,469.8 13.2,470.4 15.9,471.4 18.6,472.3 21.3,473.2 24.0,473.9 26.6,474.3 29.3,474.3 32.0,475.0 34.7,475.7 37.3,475.7 40.0,474.8 42.7,475.3 45.4,475.9 48.0,476.1 50.7,476.3 53.4,476.6 56.1,477.4 58.7,478.2 61.4,479.7 64.1,481.8 66.8,484.5 69.4,486.3 72.1,487.7 74.8,489.6 77.5,492.5 80.1,493.7 82.8,495.4 85.5,496.9 88.2,498.3 90.8,500.0 93.5,501.1 96.2,501.6 98.9,502.5 101.5,503.3 104.2,504.1 106.9,504.6 109.6,506.4 112.2,507.7 114.9,506.9 117.6,506.6 120.2,506.3 122.9,505.4 125.6,505.1 128.3,504.8 131.0,504.9 133.6,504.8 136.3,505.1 139.0,505.1 141.7,504.7 144.3,504.2 147.0,502.9 149.7,502.7 152.4,503.8 155.0,505.4 157.7,506.5 160.4,508.3 163.1,510.0 165.7,511.4 168.4,512.6 171.1,514.3 173.8,515.5 176.4,517.1 179.1,518.6 181.8,520.1 184.5,521.5 187.1,523.0 189.8,523.9 192.5,523.7 195.2,523.8 197.8,523.2 200.5,522.3 203.2,522.0 205.9,521.7 208.5,521.1 211.2,519.7 213.9,517.3 216.6,516.1 219.2,515.3 221.9,515.5 224.6,515.1 227.2,513.5 229.9,511.6 232.6,509.4 235.3,507.2 238.0,504.9 240.6,501.4 243.3,497.5 246.0,495.1 248.7,492.6 251.3,490.6 254.0,488.0 256.7,485.4 259.4,481.9 262.0,477.5 264.7,474.1 267.4,472.6 270.1,471.1 272.7,469.5 275.4,468.1 278.1,468.2 280.8,469.2 283.4,468.9 286.1,469.2 288.8,469.9 291.5,470.1 294.1,469.1 296.8,468.0 299.5,468.2 302.2,469.5 304.8,469.9 307.5,470.4 310.2,472.3 312.9,473.8 315.5,474.3 318.2,474.3 320.9,474.4 323.6,474.3 326.2,475.0 328.9,475.8 331.6,478.3 334.3,481.3 336.9,483.6 339.6,484.8 342.3,486.2 345.0,488.8 347.6,490.2 350.3,492.1 353.0,494.6 355.7,497.1 358.3,499.4 361.0,501.4 363.7,502.5 366.4,502.8 369.0,503.8 371.7,505.1 374.4,507.2 377.1,509.4 379.7,511.1 382.4,512.0 385.1,513.2 387.8,514.2 390.4,514.6 393.1,513.9 395.8,513.5 398.5,512.4 401.1,513.1 403.8,513.4 406.5,513.6 409.2,513.3 411.8,512.9 414.5,512.0 417.2,511.5 419.9,510.5 422.5,509.5 425.2,508.9 427.9,508.5 430.6,508.7 433.2,508.8 435.9,510.0 438.6,509.5 441.2,510.4 443.9,510.0 446.6,508.7 449.3,506.4 452.0,505.0 454.6,503.4 457.3,501.9 460.0,500.3 462.7,498.4 465.3,496.7 468.0,494.6 470.7,491.9 473.4,489.9 476.0,488.9 478.7,488.2 481.4,487.7 484.1,488.9 486.7,490.3 489.4,491.5 492.1,492.8 494.8,494.4 497.4,495.8 500.1,497.2 502.8,498.9 505.5,501.2 508.1,504.6 510.8,507.5 513.5,509.1 516.2,509.5 518.8,509.6 521.5,508.8 524.2,509.0 526.9,508.7 529.5,508.9 532.2,508.6 534.9,508.5 537.5,508.4 540.2,507.7 542.9,506.8 545.6,506.0 548.2,505.0 550.9,504.7 553.6,505.2 556.3,505.7 559.0,506.8 561.6,507.3 564.3,507.3 567.0,506.9 569.7,506.9 572.3,507.1 575.0,507.7 577.7,508.9 580.4,510.3 583.0,512.1 585.7,513.8 588.4,515.0 591.0,516.5 593.7,518.6 596.4,521.1 599.1,524.1 601.8,527.7 604.4,531.6 607.1,534.4 609.8,535.9 612.5,537.5 615.1,538.5 617.8,539.5 620.5,539.9 623.1,540.2 625.8,540.4 628.5,539.6 631.2,538.7 633.9,536.8 636.5,534.9 639.2,532.7 641.9,530.2 644.5,528.0 647.2,525.5 649.9,522.6 652.6,519.4 655.2,515.3 657.9,511.6 660.6,508.9 663.3,506.7 666.0,504.9 668.6,503.4 671.3,501.9 674.0,501.1 676.6,500.9 679.3,500.8 682.0,501.5 684.7,503.4 687.4,505.7 690.0,508.3 692.7,512.2 695.4,515.4 698.0,516.9 700.7,518.8 703.4,520.1 706.1,521.7 708.8,523.6 711.4,523.4 714.1,522.0 716.8,521.2 719.5,520.3 722.1,519.5 724.8,518.3 727.5,517.2 730.1,515.9 732.8,514.8 735.5,513.9 738.2,512.3 740.9,511.4 743.5,509.7 746.2,508.0 748.9,507.0 751.5,506.8 754.2,505.3 756.9,502.9 759.6,500.2 762.2,497.5 764.9,494.4 767.6,492.6 770.3,491.0 773.0,489.3 775.6,488.5 778.3,487.4 781.0,486.9 783.6,485.7 786.3,486.1 789.0,486.8 791.7,488.7 794.4,491.2 797.0,494.1 799.7,497.4 802.4,501.4 805.0,503.8 807.7,507.0 810.4,510.6 813.1,513.9 815.8,516.7 818.4,518.9 821.1,521.4 823.8,522.6 826.5,523.4 829.1,524.2 831.8,525.2 834.5,526.1 837.1,526.5 839.8,526.6 842.5,526.7" fill="none" stroke="#e8f02a" stroke-width="1.1"/><polyline points="10.6,482.8 13.2,481.5 15.9,482.2 18.6,482.2 21.3,485.3 24.0,477.1 26.6,466.1 29.3,464.0 32.0,473.4 34.7,470.3 37.3,461.6 40.0,467.6 42.7,486.0 45.4,481.9 48.0,486.1 50.7,485.0 53.4,486.1 56.1,492.7 58.7,497.0 61.4,498.4 64.1,495.3 66.8,501.8 69.4,499.1 72.1,489.4 74.8,488.0 77.5,508.6 80.1,502.7 82.8,504.8 85.5,507.0 88.2,504.8 90.8,510.4 93.5,508.6 96.2,504.1 98.9,510.0 101.5,506.8 104.2,513.0 106.9,506.0 109.6,514.5 112.2,507.2 114.9,496.8 117.6,498.1 120.2,500.5 122.9,495.4 125.6,500.4 128.3,506.2 131.0,509.5 133.6,503.4 136.3,513.3 139.0,507.2 141.7,506.7 144.3,499.7 147.0,496.4 149.7,503.6 152.4,512.3 155.0,520.4 157.7,516.3 160.4,520.9 163.1,524.0 165.7,526.5 168.4,525.7 171.1,526.8 173.8,529.8 176.4,530.0 179.1,527.5 181.8,521.7 184.5,515.4 187.1,525.0 189.8,525.0 192.5,517.4 195.2,517.8 197.8,511.7 200.5,511.2 203.2,522.3 205.9,522.6 208.5,517.3 211.2,510.6 213.9,496.7 216.6,510.7 219.2,510.7 221.9,518.4 224.6,518.7 227.2,503.2 229.9,490.8 232.6,486.4 235.3,481.8 238.0,479.2 240.6,472.0 243.3,468.3 246.0,483.8 248.7,475.4 251.3,469.4 254.0,474.6 256.7,473.1 259.4,470.1 262.0,457.6 264.7,455.0 267.4,469.2 270.1,465.4 272.7,460.2 275.4,459.2 278.1,473.1 280.8,483.2 283.4,479.0 286.1,480.0 288.8,479.3 291.5,477.5 294.1,459.2 296.8,454.1 299.5,460.0 302.2,473.8 304.8,474.6 307.5,471.8 310.2,487.1 312.9,480.7 315.5,479.3 318.2,483.7 320.9,479.7 323.6,479.5 326.2,488.2 328.9,490.0 331.6,493.1 334.3,497.1 336.9,491.6 339.6,490.6 342.3,493.5 345.0,508.6 347.6,507.2 350.3,507.7 353.0,514.1 355.7,518.1 358.3,512.2 361.0,507.7 363.7,503.5 366.4,493.5 369.0,507.8 371.7,515.4 374.4,520.2 377.1,522.1 379.7,517.5 382.4,520.9 385.1,523.9 387.8,521.6 390.4,520.1 393.1,508.9 395.8,505.4 398.5,492.4 401.1,513.5 403.8,497.7 406.5,511.0 409.2,510.6 411.8,514.9 414.5,510.3 417.2,509.4 419.9,506.9 422.5,510.3 425.2,513.5 427.9,514.0 430.6,511.7 433.2,507.2 435.9,508.7 438.6,506.6 441.2,510.2 443.9,506.1 446.6,491.7 449.3,482.7 452.0,491.5 454.6,486.3 457.3,485.4 460.0,488.5 462.7,486.6 465.3,490.4 468.0,482.7 470.7,468.6 473.4,480.8 476.0,493.1 478.7,500.8 481.4,499.3 484.1,507.9 486.7,502.3 489.4,508.2 492.1,504.0 494.8,508.9 497.4,507.1 500.1,507.2 502.8,513.1 505.5,515.5 508.1,515.5 510.8,522.5 513.5,514.2 516.2,506.5 518.8,501.8 521.5,496.8 524.2,504.9 526.9,503.1 529.5,507.2 532.2,504.8 534.9,506.3 537.5,505.3 540.2,503.6 542.9,502.6 545.6,503.7 548.2,509.3 550.9,509.3 553.6,513.8 556.3,508.7 559.0,513.0 561.6,511.4 564.3,503.7 567.0,501.5 569.7,503.8 572.3,510.3 575.0,512.6 577.7,520.5 580.4,522.2 583.0,528.9 585.7,532.8 588.4,527.0 591.0,534.5 593.7,538.3 596.4,548.0 599.1,553.5 601.8,553.8 604.4,556.6 607.1,542.5 609.8,531.6 612.5,534.6 615.1,534.9 617.8,536.6 620.5,534.4 623.1,536.8 625.8,529.9 628.5,523.0 631.2,525.3 633.9,522.1 636.5,526.1 639.2,523.0 641.9,521.4 644.5,512.4 647.2,497.0 649.9,493.2 652.6,489.9 655.2,479.2 657.9,483.1 660.6,499.7 663.3,498.3 666.0,498.0 668.6,503.9 671.3,501.7 674.0,514.0 676.6,521.3 679.3,520.0 682.0,522.4 684.7,523.7 687.4,524.7 690.0,526.7 692.7,533.1 695.4,527.7 698.0,521.0 700.7,524.6 703.4,516.8 706.1,526.8 708.8,527.8 711.4,510.8 714.1,502.1 716.8,508.6 719.5,510.3 722.1,512.0 724.8,508.1 727.5,510.6 730.1,515.1 732.8,512.1 735.5,509.2 738.2,501.4 740.9,504.9 743.5,503.0 746.2,504.1 748.9,496.5 751.5,498.9 754.2,487.9 756.9,476.5 759.6,474.3 762.2,471.3 764.9,466.0 767.6,490.7 770.3,488.8 773.0,485.6 775.6,490.5 778.3,489.8 781.0,495.8 783.6,487.0 786.3,502.6 789.0,509.2 791.7,513.4 794.4,511.6 797.0,515.4 799.7,517.7 802.4,521.5 805.0,523.6 807.7,535.0 810.4,535.6 813.1,536.3 815.8,529.7 818.4,525.8 821.1,521.6 823.8,520.5 826.5,520.5 829.1,523.3 831.8,525.6 834.5,528.4 837.1,524.2 839.8,522.6 842.5,524.5" fill="none" stroke="#a656cf" stroke-width="1"/><line x1="604.3" y1="553" x2="883" y2="531.8" stroke="#0b2a20" stroke-width="2"/></g><rect x="10" y="27" width="1261" height="1" fill="rgba(32,32,32,0.5)"/><rect x="10" y="28" width="1" height="565" fill="rgba(32,32,32,0.5)"/><rect x="1270" y="28" width="1" height="565" fill="rgba(32,32,32,0.5)"/><rect x="11" y="592" width="1259" height="1" fill="rgba(32,32,32,0.5)"/><text x="1255.5" y="71.7" font-size="12" fill="#b2b5be" text-anchor="end" font-weight="normal" stroke="#b2b5be" stroke-width="0.3">1.500</text><text x="1255.5" y="111.10000000000001" font-size="12" fill="#b2b5be" text-anchor="end" font-weight="normal" stroke="#b2b5be" stroke-width="0.3">1.400</text><text x="1255.5" y="150.5" font-size="12" fill="#b2b5be" text-anchor="end" font-weight="normal" stroke="#b2b5be" stroke-width="0.3">1.300</text><text x="1255.5" y="189.79999999999998" font-size="12" fill="#b2b5be" text-anchor="end" font-weight="normal" stroke="#b2b5be" stroke-width="0.3">1.200</text><text x="1255.5" y="385.8" font-size="12" fill="#b2b5be" text-anchor="end" font-weight="normal" stroke="#b2b5be" stroke-width="0.3">0.700</text><text x="1255.5" y="425.0" font-size="12" fill="#b2b5be" text-anchor="end" font-weight="normal" stroke="#b2b5be" stroke-width="0.3">0.600</text><text x="1255.5" y="465.8" font-size="12" fill="#b2b5be" text-anchor="end" font-weight="normal" stroke="#b2b5be" stroke-width="0.3">80.00</text><text x="1255.5" y="495.4" font-size="12" fill="#b2b5be" text-anchor="end" font-weight="normal" stroke="#b2b5be" stroke-width="0.3">60.00</text><text x="1255.5" y="557.5" font-size="12" fill="#b2b5be" text-anchor="end" font-weight="normal" stroke="#b2b5be" stroke-width="0.3">20.00</text><rect x="1218" y="183.20" width="43" height="17" rx="1.5" fill="#aa2707"/><text x="1226.2" y="196.0" font-size="12" fill="#fff" text-anchor="start" font-weight="normal" textLength="29.4" lengthAdjust="spacingAndGlyphs" stroke="#fff" stroke-width="0.45">0.900</text><rect x="1218" y="200.15" width="43" height="17" rx="1.5" fill="#f55151"/><text x="1226.2" y="212.95" font-size="12" fill="#fff" text-anchor="start" font-weight="normal" textLength="29.4" lengthAdjust="spacingAndGlyphs" stroke="#fff" stroke-width="0.45">0.897</text><rect x="1218" y="217.10" width="43" height="17" rx="1.5" fill="#f57d51"/><text x="1226.2" y="229.9" font-size="12" fill="#fff" text-anchor="start" font-weight="normal" textLength="29.4" lengthAdjust="spacingAndGlyphs" stroke="#fff" stroke-width="0.45">0.893</text><rect x="1218" y="234.05" width="43" height="17" rx="1.5" fill="#f56d58"/><text x="1226.2" y="246.85" font-size="12" fill="#fff" text-anchor="start" font-weight="normal" textLength="29.4" lengthAdjust="spacingAndGlyphs" stroke="#fff" stroke-width="0.45">0.890</text><rect x="1218" y="251.00" width="43" height="17" rx="1.5" fill="#f57b4e"/><text x="1226.2" y="263.8" font-size="12" fill="#fff" text-anchor="start" font-weight="normal" textLength="29.4" lengthAdjust="spacingAndGlyphs" stroke="#fff" stroke-width="0.45">0.886</text><rect x="1218" y="267.95" width="43" height="17" rx="1.5" fill="#f5b056"/><text x="1226.2" y="280.75" font-size="12" fill="#131722" text-anchor="start" font-weight="normal" textLength="29.4" lengthAdjust="spacingAndGlyphs" stroke="#131722" stroke-width="0.1">0.880</text><rect x="1218" y="284.90" width="43" height="17" rx="1.5" fill="#f5b771"/><text x="1226.2" y="297.7" font-size="12" fill="#131722" text-anchor="start" font-weight="normal" textLength="29.4" lengthAdjust="spacingAndGlyphs" stroke="#131722" stroke-width="0.1">0.874</text><rect x="1218" y="301.85" width="43" height="17" rx="1.5" fill="#f5eb5d"/><text x="1226.2" y="314.65" font-size="12" fill="#131722" text-anchor="start" font-weight="normal" textLength="29.4" lengthAdjust="spacingAndGlyphs" stroke="#131722" stroke-width="0.1">0.866</text><rect x="1218" y="318.8" width="43" height="30.4" rx="1.5" fill="#f23645"/><text x="1226.2" y="331.6" font-size="12" fill="#fff" text-anchor="start" font-weight="normal" textLength="29.4" lengthAdjust="spacingAndGlyphs" stroke="#fff" stroke-width="0.45">0.837</text><text x="1226.2" y="345.8" font-size="12" fill="#fde0e3" text-anchor="start" font-weight="normal" textLength="29.4" lengthAdjust="spacingAndGlyphs" stroke="#fde0e3" stroke-width="0.4">58:47</text><rect x="1161.2" y="319.2" width="55" height="16.3" rx="2" fill="#f23645"/><text x="1165.7" y="331.8" font-size="12" fill="#fff" text-anchor="start" font-weight="normal" textLength="47" lengthAdjust="spacingAndGlyphs" stroke="#fff" stroke-width="0.45">WIFUSDT</text><rect x="1218.2" y="425.2" width="46.6" height="15.8" rx="2" fill="#f05450"/><text x="1226" y="437.6" font-size="12" fill="#fff" text-anchor="start" font-weight="normal" textLength="33" lengthAdjust="spacingAndGlyphs" stroke="#fff" stroke-width="0.3">3.13M</text><rect x="1218" y="516" width="42.6" height="17" rx="2" fill="#ab47bc"/><text x="1226.2" y="529" font-size="12" fill="#fff" text-anchor="start" font-weight="normal" textLength="29.4" lengthAdjust="spacingAndGlyphs" stroke="#fff" stroke-width="0.3">38.62</text><rect x="1218" y="533" width="42.6" height="17" rx="2" fill="#e4f71e"/><text x="1226.2" y="546" font-size="12" fill="#131722" text-anchor="start" font-weight="normal" textLength="29.4" lengthAdjust="spacingAndGlyphs" stroke="#131722" stroke-width="0.3">36.25</text><rect x="1221" y="31" width="46" height="26" rx="4" fill="#ffffff"/><text x="1243.8" y="49" font-size="12" fill="#131722" text-anchor="middle" font-weight="normal" textLength="26.4" lengthAdjust="spacingAndGlyphs">USDT</text><text x="18.4" y="46.1" font-size="12" fill="#b3afc6" text-anchor="start" font-weight="normal" stroke="#b3afc6" stroke-width="0.15">WIF</text><text x="43.6" y="46.1" font-size="12" fill="#b3afc6" text-anchor="start" font-weight="normal" stroke="#b3afc6" stroke-width="0.15">/</text><text x="52.1" y="46.1" font-size="12" fill="#b3afc6" text-anchor="start" font-weight="normal" textLength="46.9" lengthAdjust="spacingAndGlyphs" stroke="#b3afc6" stroke-width="0.15">TetherUS</text><text x="103.2" y="46.1" font-size="12" fill="#b3afc6" text-anchor="start" font-weight="normal" stroke="#b3afc6" stroke-width="0.15">·</text><text x="111" y="46.1" font-size="12" fill="#b3afc6" text-anchor="start" font-weight="normal" textLength="12.3" lengthAdjust="spacingAndGlyphs" stroke="#b3afc6" stroke-width="0.15">4h</text><text x="128.6" y="46.1" font-size="12" fill="#b3afc6" text-anchor="start" font-weight="normal" stroke="#b3afc6" stroke-width="0.15">·</text><text x="135.5" y="46.1" font-size="12" fill="#b3afc6" text-anchor="start" font-weight="normal" textLength="45.3" lengthAdjust="spacingAndGlyphs" stroke="#b3afc6" stroke-width="0.15">BINANCE</text><text x="189.8" y="46.1" font-size="12" fill="#b3afc6" text-anchor="start" font-weight="normal" stroke="#b3afc6" stroke-width="0.15">O</text><text x="197" y="46.1" font-size="12" fill="#f23645" text-anchor="start" font-weight="normal" textLength="29" lengthAdjust="spacingAndGlyphs" stroke="#f23645" stroke-width="0.1">0.844</text><text x="234.2" y="46.1" font-size="12" fill="#b3afc6" text-anchor="start" font-weight="normal" stroke="#b3afc6" stroke-width="0.15">H</text><text x="242" y="46.1" font-size="12" fill="#f23645" text-anchor="start" font-weight="normal" textLength="29" lengthAdjust="spacingAndGlyphs" stroke="#f23645" stroke-width="0.1">0.855</text><text x="278.8" y="46.1" font-size="12" fill="#b3afc6" text-anchor="start" font-weight="normal" stroke="#b3afc6" stroke-width="0.15">L</text><text x="284.5" y="46.1" font-size="12" fill="#f23645" text-anchor="start" font-weight="normal" textLength="29" lengthAdjust="spacingAndGlyphs" stroke="#f23645" stroke-width="0.1">0.837</text><text x="322" y="46.1" font-size="12" fill="#b3afc6" text-anchor="start" font-weight="normal" stroke="#b3afc6" stroke-width="0.15">C</text><text x="328.6" y="46.1" font-size="12" fill="#f23645" text-anchor="start" font-weight="normal" textLength="29" lengthAdjust="spacingAndGlyphs" stroke="#f23645" stroke-width="0.1">0.837</text><text x="365.8" y="46.1" font-size="12" fill="#f23645" text-anchor="start" font-weight="normal" textLength="33.8" lengthAdjust="spacingAndGlyphs" stroke="#f23645" stroke-width="0.1">−0.007</text><text x="405.6" y="46.1" font-size="12" fill="#f23645" text-anchor="start" font-weight="normal" textLength="43.7" lengthAdjust="spacingAndGlyphs" stroke="#f23645" stroke-width="0.1">(−0.83%)</text><text x="18.4" y="63.2" font-size="12" fill="#b3afc6" text-anchor="start" font-weight="normal" textLength="15" lengthAdjust="spacingAndGlyphs" stroke="#b3afc6" stroke-width="0.15">Vol</text><text x="38.6" y="63.2" font-size="12" fill="#b3afc6" text-anchor="start" font-weight="normal" stroke="#b3afc6" stroke-width="0.15">·</text><text x="47" y="63.2" font-size="12" fill="#b3afc6" text-anchor="start" font-weight="normal" textLength="17.8" lengthAdjust="spacingAndGlyphs" stroke="#b3afc6" stroke-width="0.15">WIF</text><text x="73.7" y="63.2" font-size="12" fill="#f0504d" text-anchor="start" font-weight="normal" textLength="32.8" lengthAdjust="spacingAndGlyphs" stroke="#f0504d" stroke-width="0.1">3.13M</text><text x="18.2" y="80.6" font-size="12" fill="#b3afc6" text-anchor="start" font-weight="normal" textLength="62.1" lengthAdjust="spacingAndGlyphs" stroke="#b3afc6" stroke-width="0.15">EMA Ribbon</text><text x="84.5" y="80.6" font-size="12" fill="#b3afc6" text-anchor="start" font-weight="normal" textLength="214" lengthAdjust="spacingAndGlyphs" stroke="#b3afc6" stroke-width="0.15">(20, 25, 30, 35, 40, 45, 50, 55, close, 1)</text><text x="306.3" y="80.6" font-size="12" fill="#f5eb5d" text-anchor="start" font-weight="normal" textLength="29.4" lengthAdjust="spacingAndGlyphs" stroke="#f5eb5d" stroke-width="0.1">0.866</text><text x="343.1" y="80.6" font-size="12" fill="#f5b771" text-anchor="start" font-weight="normal" textLength="29.4" lengthAdjust="spacingAndGlyphs" stroke="#f5b771" stroke-width="0.1">0.874</text><text x="379.9" y="80.6" font-size="12" fill="#f5b056" text-anchor="start" font-weight="normal" textLength="29.4" lengthAdjust="spacingAndGlyphs" stroke="#f5b056" stroke-width="0.1">0.880</text><text x="416.7" y="80.6" font-size="12" fill="#f57b4e" text-anchor="start" font-weight="normal" textLength="29.4" lengthAdjust="spacingAndGlyphs" stroke="#f57b4e" stroke-width="0.1">0.886</text><text x="453.5" y="80.6" font-size="12" fill="#f56d58" text-anchor="start" font-weight="normal" textLength="29.4" lengthAdjust="spacingAndGlyphs" stroke="#f56d58" stroke-width="0.1">0.890</text><text x="490.3" y="80.6" font-size="12" fill="#f57d51" text-anchor="start" font-weight="normal" textLength="29.4" lengthAdjust="spacingAndGlyphs" stroke="#f57d51" stroke-width="0.1">0.893</text><text x="527.1" y="80.6" font-size="12" fill="#f55151" text-anchor="start" font-weight="normal" textLength="29.4" lengthAdjust="spacingAndGlyphs" stroke="#f55151" stroke-width="0.1">0.897</text><text x="563.9" y="80.6" font-size="12" fill="#aa2707" text-anchor="start" font-weight="normal" textLength="29.4" lengthAdjust="spacingAndGlyphs" stroke="#aa2707" stroke-width="0.1">0.900</text><text x="18.4" y="461.2" font-size="12" fill="#b3afc6" text-anchor="start" font-weight="normal" textLength="75" lengthAdjust="spacingAndGlyphs" stroke="#b3afc6" stroke-width="0.15">RSI (14, close)</text><text x="101.8" y="461.2" font-size="12" fill="#ab47bc" text-anchor="start" font-weight="normal" textLength="28" lengthAdjust="spacingAndGlyphs" stroke="#ab47bc" stroke-width="0.1">38.62</text><text x="138.8" y="461.2" font-size="12" fill="#e4f71e" text-anchor="start" font-weight="normal" textLength="28.5" lengthAdjust="spacingAndGlyphs" stroke="#e4f71e" stroke-width="0.5">36.25</text><text x="34" y="583" font-size="12" fill="#b2b5be" text-anchor="middle" font-weight="normal" stroke="#b2b5be" stroke-width="0.15">26</text><text x="114" y="583" font-size="12" fill="#b2b5be" text-anchor="middle" font-weight="normal" stroke="#b2b5be" stroke-width="0.6">May</text><text x="179" y="583" font-size="12" fill="#b2b5be" text-anchor="middle" font-weight="normal" stroke="#b2b5be" stroke-width="0.15">5</text><text x="243" y="583" font-size="12" fill="#b2b5be" text-anchor="middle" font-weight="normal" stroke="#b2b5be" stroke-width="0.15">9</text><text x="307" y="583" font-size="12" fill="#b2b5be" text-anchor="middle" font-weight="normal" stroke="#b2b5be" stroke-width="0.15">13</text><text x="371" y="583" font-size="12" fill="#b2b5be" text-anchor="middle" font-weight="normal" stroke="#b2b5be" stroke-width="0.15">17</text><text x="435" y="583" font-size="12" fill="#b2b5be" text-anchor="middle" font-weight="normal" stroke="#b2b5be" stroke-width="0.15">21</text><text x="499" y="583" font-size="12" fill="#b2b5be" text-anchor="middle" font-weight="normal" stroke="#b2b5be" stroke-width="0.15">25</text><text x="611.5" y="583" font-size="12" fill="#b2b5be" text-anchor="middle" font-weight="normal" stroke="#b2b5be" stroke-width="0.6">Jun</text><text x="676.4" y="583" font-size="12" fill="#b2b5be" text-anchor="middle" font-weight="normal" stroke="#b2b5be" stroke-width="0.15">5</text><text x="739.8" y="583" font-size="12" fill="#b2b5be" text-anchor="middle" font-weight="normal" stroke="#b2b5be" stroke-width="0.15">9</text><text x="804.7" y="583" font-size="12" fill="#b2b5be" text-anchor="middle" font-weight="normal" stroke="#b2b5be" stroke-width="0.15">13</text><text x="868.6" y="583" font-size="12" fill="#b2b5be" text-anchor="middle" font-weight="normal" stroke="#b2b5be" stroke-width="0.15">17</text><text x="932.5" y="583" font-size="12" fill="#b2b5be" text-anchor="middle" font-weight="normal" stroke="#b2b5be" stroke-width="0.15">21</text><text x="996.9" y="583" font-size="12" fill="#b2b5be" text-anchor="middle" font-weight="normal" stroke="#b2b5be" stroke-width="0.15">25</text><text x="1093.2" y="583" font-size="12" fill="#b2b5be" text-anchor="middle" font-weight="normal" stroke="#b2b5be" stroke-width="0.6">Jul</text><text x="1157.6" y="583" font-size="12" fill="#b2b5be" text-anchor="middle" font-weight="normal" stroke="#b2b5be" stroke-width="0.15">5</text><text x="10" y="19" font-size="12.5" fill="#e1e1e1" text-anchor="start" font-weight="normal" textLength="377.5" lengthAdjust="spacingAndGlyphs" stroke="#e1e1e1" stroke-width="0.3">cryptocore8 published on TradingView.com, Jun 15, 2025 13:01 UTC+6</text><g transform="translate(10,603) scale(0.555)" fill="#d1d4dc"><path d="M14 22H7V11H0V4h14v18zM28 22h-8l7.5-18h8L28 22z"/><circle cx="20" cy="8" r="4"/></g><text x="32.9" y="614.8" font-size="13" fill="#d1d4dc" text-anchor="start" font-weight="normal" textLength="70.5" lengthAdjust="spacingAndGlyphs" stroke="#d1d4dc" stroke-width="0.45">TradingView</text>
</svg>
</body></html>
